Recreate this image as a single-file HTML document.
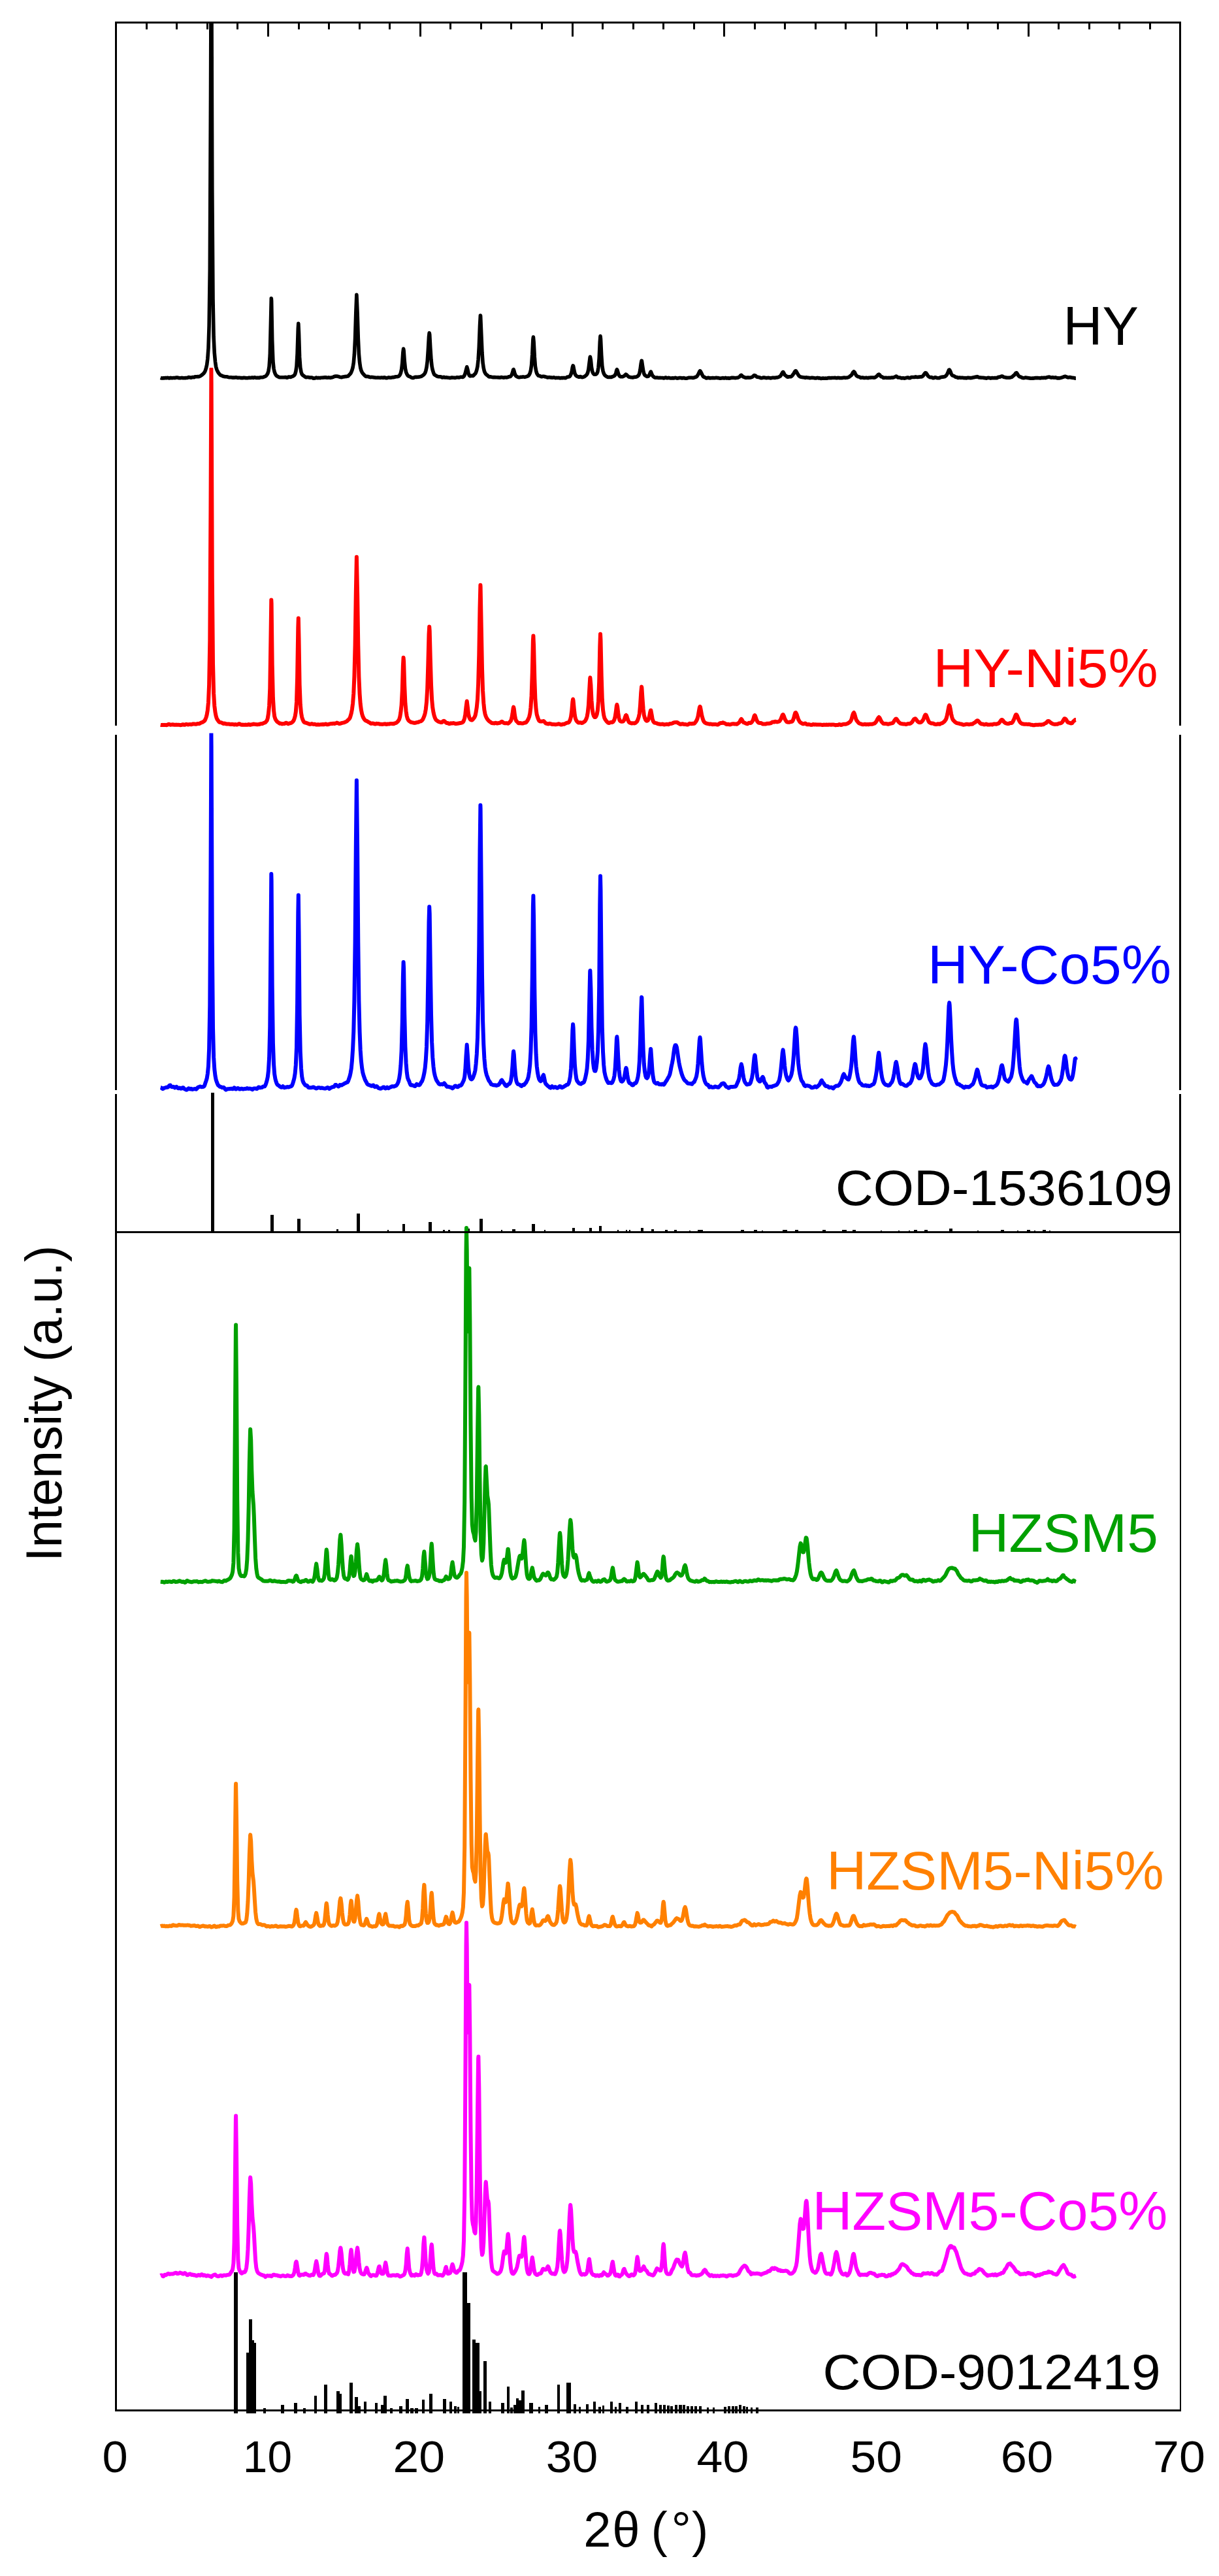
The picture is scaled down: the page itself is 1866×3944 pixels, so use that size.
<!DOCTYPE html>
<html lang="en">
<head>
<meta charset="utf-8">
<title>XRD patterns of HY and HZSM5 catalysts</title>
<style>
html,body{margin:0;padding:0;background:#fff}
body{width:1866px;height:3944px;overflow:hidden}
svg{display:block}
</style>
</head>
<body>
<svg width="1866" height="3944" viewBox="0 0 1866 3944">
<rect width="1866" height="3944" fill="#fff"/>
<defs>
<clipPath id="c_blue"><rect x="0" y="1122.5" width="1866" height="2821.5"/></clipPath>
<clipPath id="c_red"><rect x="0" y="563.0" width="1866" height="3381.0"/></clipPath>
<clipPath id="c_black"><rect x="0" y="33.5" width="1866" height="3910.5"/></clipPath>
<clipPath id="c_magenta"><rect x="0" y="2939.0" width="1866" height="1005.0"/></clipPath>
<clipPath id="c_orange"><rect x="0" y="2403.0" width="1866" height="1541.0"/></clipPath>
<clipPath id="c_green"><rect x="0" y="1875.0" width="1866" height="2069.0"/></clipPath>
</defs>
<g fill="#000" shape-rendering="crispEdges">
<rect x="322.7" y="1672.8" width="5.6" height="214.7"/>
<rect x="413.5" y="1860.2" width="5.0" height="27.3"/>
<rect x="454.5" y="1866.4" width="5.0" height="21.1"/>
<rect x="515.3" y="1882.0" width="2.5" height="5.5"/>
<rect x="546.2" y="1857.5" width="5.0" height="30.0"/>
<rect x="593.3" y="1883.0" width="2.0" height="4.5"/>
<rect x="615.8" y="1874.2" width="4.5" height="13.3"/>
<rect x="656.3" y="1871.2" width="4.5" height="16.3"/>
<rect x="678.3" y="1882.5" width="3.0" height="5.0"/>
<rect x="685.9" y="1882.5" width="3.0" height="5.0"/>
<rect x="714.5" y="1880.6" width="4.0" height="6.9"/>
<rect x="734.1" y="1865.8" width="4.5" height="21.7"/>
<rect x="767.2" y="1883.0" width="2.0" height="4.5"/>
<rect x="784.1" y="1882.0" width="5.0" height="5.5"/>
<rect x="814.1" y="1874.2" width="5.0" height="13.3"/>
<rect x="833.1" y="1883.0" width="2.0" height="4.5"/>
<rect x="876.3" y="1879.5" width="4.0" height="8.0"/>
<rect x="901.9" y="1879.5" width="4.0" height="8.0"/>
<rect x="916.8" y="1877.0" width="4.5" height="10.5"/>
<rect x="944.8" y="1883.0" width="2.0" height="4.5"/>
<rect x="957.8" y="1883.0" width="2.0" height="4.5"/>
<rect x="963.4" y="1883.0" width="2.0" height="4.5"/>
<rect x="981.0" y="1879.5" width="4.0" height="8.0"/>
<rect x="997.3" y="1882.0" width="4.0" height="5.5"/>
<rect x="1018.3" y="1882.5" width="4.0" height="5.0"/>
<rect x="1032.3" y="1882.5" width="4.0" height="5.0"/>
<rect x="1054.9" y="1883.6" width="2.0" height="3.9"/>
<rect x="1068.0" y="1882.5" width="8.0" height="5.0"/>
<rect x="1134.2" y="1882.8" width="5.0" height="4.7"/>
<rect x="1154.2" y="1882.8" width="5.0" height="4.7"/>
<rect x="1165.9" y="1883.6" width="2.0" height="3.9"/>
<rect x="1197.9" y="1882.8" width="7.0" height="4.7"/>
<rect x="1217.0" y="1882.8" width="5.0" height="4.7"/>
<rect x="1258.9" y="1882.8" width="5.0" height="4.7"/>
<rect x="1288.9" y="1882.8" width="7.0" height="4.7"/>
<rect x="1304.8" y="1882.8" width="5.0" height="4.7"/>
<rect x="1347.5" y="1883.6" width="2.0" height="3.9"/>
<rect x="1374.7" y="1883.6" width="2.0" height="3.9"/>
<rect x="1391.0" y="1883.6" width="2.0" height="3.9"/>
<rect x="1399.3" y="1882.8" width="5.0" height="4.7"/>
<rect x="1415.3" y="1882.8" width="5.0" height="4.7"/>
<rect x="1453.1" y="1880.5" width="5.0" height="7.0"/>
<rect x="1496.4" y="1883.6" width="2.0" height="3.9"/>
<rect x="1532.2" y="1882.8" width="5.0" height="4.7"/>
<rect x="1557.0" y="1883.6" width="2.0" height="3.9"/>
<rect x="1571.8" y="1882.8" width="5.0" height="4.7"/>
<rect x="1582.6" y="1883.6" width="2.0" height="3.9"/>
<rect x="1596.2" y="1882.8" width="5.0" height="4.7"/>
<rect x="1605.8" y="1883.6" width="2.0" height="3.9"/>
<rect x="358.0" y="3478.5" width="5.7" height="216.0"/>
<rect x="377.3" y="3601.5" width="4.0" height="93.0"/>
<rect x="380.5" y="3551.0" width="5.0" height="143.5"/>
<rect x="384.5" y="3583.0" width="4.0" height="111.5"/>
<rect x="388.0" y="3587.0" width="4.0" height="107.5"/>
<rect x="402.6" y="3686.5" width="4.0" height="8.0"/>
<rect x="430.3" y="3681.5" width="4.5" height="13.0"/>
<rect x="450.1" y="3678.6" width="4.5" height="15.9"/>
<rect x="464.3" y="3686.5" width="4.0" height="8.0"/>
<rect x="480.6" y="3668.4" width="4.0" height="26.1"/>
<rect x="496.4" y="3650.7" width="5.0" height="43.8"/>
<rect x="515.3" y="3661.0" width="4.5" height="33.5"/>
<rect x="519.7" y="3665.0" width="3.5" height="29.5"/>
<rect x="535.3" y="3647.9" width="5.0" height="46.6"/>
<rect x="543.0" y="3670.4" width="5.0" height="24.1"/>
<rect x="548.1" y="3684.0" width="4.0" height="10.5"/>
<rect x="557.4" y="3676.6" width="4.0" height="17.9"/>
<rect x="573.5" y="3678.6" width="4.5" height="15.9"/>
<rect x="583.0" y="3681.5" width="4.0" height="13.0"/>
<rect x="587.4" y="3668.4" width="4.5" height="26.1"/>
<rect x="597.0" y="3686.5" width="4.0" height="8.0"/>
<rect x="610.5" y="3684.0" width="5.0" height="10.5"/>
<rect x="621.2" y="3673.3" width="4.5" height="21.2"/>
<rect x="627.9" y="3686.5" width="5.0" height="8.0"/>
<rect x="634.9" y="3686.5" width="5.0" height="8.0"/>
<rect x="645.9" y="3674.0" width="4.0" height="20.5"/>
<rect x="657.3" y="3665.0" width="4.5" height="29.5"/>
<rect x="678.2" y="3673.3" width="4.5" height="21.2"/>
<rect x="687.8" y="3676.6" width="4.0" height="17.9"/>
<rect x="695.0" y="3683.5" width="3.5" height="11.0"/>
<rect x="699.7" y="3685.0" width="3.5" height="9.5"/>
<rect x="708.4" y="3479.3" width="6.5" height="215.2"/>
<rect x="713.8" y="3525.6" width="6.0" height="168.9"/>
<rect x="723.3" y="3582.2" width="5.0" height="112.3"/>
<rect x="728.2" y="3587.0" width="5.5" height="107.5"/>
<rect x="733.4" y="3661.0" width="3.5" height="33.5"/>
<rect x="739.6" y="3615.0" width="5.0" height="79.5"/>
<rect x="748.3" y="3676.6" width="4.0" height="17.9"/>
<rect x="767.1" y="3678.6" width="5.0" height="15.9"/>
<rect x="775.5" y="3653.6" width="4.5" height="40.9"/>
<rect x="780.9" y="3686.0" width="4.0" height="8.5"/>
<rect x="785.5" y="3682.0" width="4.0" height="12.5"/>
<rect x="789.5" y="3672.0" width="4.5" height="22.5"/>
<rect x="793.7" y="3675.0" width="4.0" height="19.5"/>
<rect x="798.1" y="3659.8" width="4.5" height="34.7"/>
<rect x="810.1" y="3679.0" width="6.0" height="15.5"/>
<rect x="824.4" y="3684.5" width="3.0" height="10.0"/>
<rect x="834.2" y="3682.0" width="4.5" height="12.5"/>
<rect x="852.8" y="3651.0" width="4.5" height="43.5"/>
<rect x="866.7" y="3648.2" width="7.0" height="46.3"/>
<rect x="877.7" y="3681.0" width="4.0" height="13.5"/>
<rect x="886.1" y="3685.0" width="3.0" height="9.5"/>
<rect x="897.3" y="3681.0" width="4.0" height="13.5"/>
<rect x="908.2" y="3677.0" width="3.5" height="17.5"/>
<rect x="915.9" y="3685.0" width="4.0" height="9.5"/>
<rect x="921.9" y="3683.0" width="3.5" height="11.5"/>
<rect x="934.0" y="3677.0" width="3.5" height="17.5"/>
<rect x="940.8" y="3685.0" width="3.0" height="9.5"/>
<rect x="947.3" y="3679.0" width="3.5" height="15.5"/>
<rect x="957.8" y="3685.0" width="4.0" height="9.5"/>
<rect x="971.5" y="3677.0" width="4.5" height="17.5"/>
<rect x="981.0" y="3682.0" width="4.0" height="12.5"/>
<rect x="990.4" y="3682.0" width="4.0" height="12.5"/>
<rect x="1002.2" y="3679.0" width="3.5" height="15.5"/>
<rect x="1008.7" y="3682.0" width="4.5" height="12.5"/>
<rect x="1014.5" y="3682.0" width="4.5" height="12.5"/>
<rect x="1020.6" y="3683.0" width="4.0" height="11.5"/>
<rect x="1026.4" y="3684.0" width="4.0" height="10.5"/>
<rect x="1033.4" y="3682.0" width="4.0" height="12.5"/>
<rect x="1039.0" y="3681.5" width="4.5" height="13.0"/>
<rect x="1045.1" y="3682.0" width="4.0" height="12.5"/>
<rect x="1050.9" y="3684.0" width="4.0" height="10.5"/>
<rect x="1056.7" y="3684.0" width="4.0" height="10.5"/>
<rect x="1062.5" y="3684.0" width="4.0" height="10.5"/>
<rect x="1069.5" y="3683.5" width="4.0" height="11.0"/>
<rect x="1081.6" y="3685.5" width="3.0" height="9.0"/>
<rect x="1090.9" y="3685.5" width="3.0" height="9.0"/>
<rect x="1107.9" y="3684.5" width="4.0" height="10.0"/>
<rect x="1113.7" y="3684.0" width="4.0" height="10.5"/>
<rect x="1119.5" y="3684.0" width="4.0" height="10.5"/>
<rect x="1125.4" y="3683.5" width="4.0" height="11.0"/>
<rect x="1131.2" y="3682.0" width="4.0" height="12.5"/>
<rect x="1137.0" y="3684.0" width="4.0" height="10.5"/>
<rect x="1142.2" y="3685.0" width="3.0" height="9.5"/>
<rect x="1149.1" y="3686.0" width="3.0" height="8.5"/>
<rect x="1157.0" y="3686.0" width="3.5" height="8.5"/>
</g>
<polyline clip-path="url(#c_blue)" fill="none" stroke="#0000ff" stroke-width="6" stroke-linejoin="round" stroke-linecap="butt" points="245.7,1665.0 246.8,1665.3 248.0,1666.4 249.2,1667.1 250.3,1666.5 251.5,1665.6 252.6,1665.4 253.8,1665.1 255.0,1664.7 256.1,1664.8 257.3,1664.4 258.5,1662.9 259.6,1661.7 260.8,1661.6 261.5,1662.5 262.0,1663.4 263.1,1664.1 264.3,1664.2 265.5,1663.8 266.6,1664.6 267.8,1665.4 268.9,1664.5 270.1,1663.8 271.3,1664.8 272.4,1666.2 273.6,1666.2 274.8,1665.6 275.9,1666.1 277.1,1666.7 278.3,1666.3 279.4,1665.2 280.6,1665.2 281.7,1666.8 282.9,1667.6 284.1,1668.1 285.2,1668.7 286.4,1668.3 287.6,1667.2 288.7,1666.3 289.9,1666.9 291.1,1667.5 292.2,1666.8 293.4,1667.2 294.5,1668.0 295.7,1667.6 296.9,1667.3 298.0,1667.1 299.2,1667.2 300.4,1667.7 301.5,1666.6 302.7,1665.0 303.9,1664.4 305.0,1664.0 306.2,1663.5 307.3,1663.8 308.5,1664.3 309.7,1664.1 310.8,1664.1 312.0,1663.6 313.2,1661.8 314.3,1658.3 315.5,1654.9 316.7,1651.0 317.8,1644.1 319.0,1632.1 320.1,1606.0 321.3,1539.3 322.5,1335.7 323.4,1121.9 323.6,1142.4 324.8,1444.0 326.0,1574.1 327.1,1618.4 328.3,1637.1 329.5,1647.1 330.6,1653.0 331.8,1656.6 333.0,1659.7 334.1,1661.7 335.3,1662.5 336.4,1663.7 337.6,1664.1 338.8,1664.3 339.9,1665.2 341.1,1665.1 342.3,1664.8 343.4,1665.7 344.6,1667.5 345.8,1668.6 346.9,1668.1 348.1,1667.3 349.2,1667.3 350.4,1667.3 351.6,1666.9 352.7,1667.0 353.9,1666.8 355.1,1666.7 356.2,1667.3 357.4,1666.7 358.6,1665.4 359.7,1666.1 360.9,1667.6 362.0,1667.3 363.2,1666.3 364.4,1666.0 365.5,1666.7 366.7,1667.6 367.9,1667.5 369.0,1666.8 370.2,1666.8 371.4,1667.4 372.5,1667.5 373.7,1667.2 374.8,1666.9 376.0,1667.1 377.2,1666.7 378.3,1666.1 379.5,1666.7 380.7,1666.9 381.8,1666.6 383.0,1666.8 384.2,1667.0 385.3,1667.7 386.5,1668.1 387.6,1667.0 388.8,1666.4 390.0,1666.4 391.1,1666.5 392.3,1666.9 393.5,1667.0 394.6,1665.8 395.8,1664.5 397.0,1664.7 398.1,1665.4 399.3,1665.1 400.5,1665.1 401.6,1664.5 402.8,1663.5 403.9,1663.6 405.1,1663.4 406.3,1661.5 407.4,1658.4 408.6,1654.4 409.8,1648.9 410.9,1639.6 412.1,1619.5 413.3,1571.6 414.4,1445.6 415.3,1338.1 415.6,1348.1 416.7,1510.0 417.9,1596.7 419.1,1630.1 420.2,1644.6 421.4,1651.7 422.6,1656.1 423.7,1659.2 424.9,1661.0 426.1,1661.7 427.2,1662.4 428.4,1663.6 429.5,1664.2 430.7,1664.8 431.9,1664.5 433.0,1663.3 434.2,1664.4 435.4,1665.3 436.5,1664.7 437.7,1664.8 438.9,1664.4 440.0,1663.9 441.2,1664.4 442.3,1664.4 443.5,1663.8 444.7,1663.4 445.8,1663.2 447.0,1661.9 448.2,1658.9 449.3,1655.2 450.5,1650.6 451.7,1643.2 452.8,1630.7 454.0,1603.6 455.1,1535.7 456.3,1398.2 456.8,1370.4 457.5,1425.6 458.6,1554.0 459.8,1610.8 461.0,1635.4 462.1,1647.7 463.3,1654.3 464.5,1657.4 465.6,1659.1 466.8,1660.9 468.0,1661.9 469.1,1661.7 470.3,1662.4 471.4,1664.1 472.6,1665.1 473.8,1665.3 474.9,1665.2 476.1,1665.3 477.3,1665.1 478.4,1664.7 479.6,1664.4 480.8,1664.8 481.9,1665.6 483.1,1666.0 484.2,1666.5 485.4,1666.1 486.6,1665.3 487.7,1665.3 488.9,1665.3 490.1,1665.8 491.2,1665.9 492.4,1665.5 493.6,1665.8 494.7,1666.1 495.9,1666.4 497.0,1666.6 498.2,1666.6 499.4,1666.1 500.5,1665.3 501.7,1665.0 502.9,1665.7 504.0,1667.0 505.2,1666.4 506.4,1665.3 507.5,1665.0 508.7,1664.3 509.8,1664.1 511.0,1664.1 512.2,1662.6 513.3,1660.9 514.5,1661.0 515.2,1661.9 515.7,1662.1 516.8,1662.7 518.0,1663.5 519.2,1662.7 520.3,1661.1 521.5,1661.2 522.7,1661.6 523.8,1660.9 525.0,1660.2 526.1,1659.7 527.3,1658.8 528.5,1658.4 529.6,1657.8 530.8,1657.1 532.0,1657.0 533.1,1654.8 534.3,1651.3 535.5,1647.8 536.6,1642.8 537.8,1635.7 538.9,1624.1 540.1,1606.1 541.3,1579.2 542.4,1531.7 543.6,1442.7 544.8,1297.2 545.9,1194.7 547.1,1296.7 548.3,1442.7 549.4,1532.4 550.6,1580.4 551.7,1607.9 552.9,1624.7 554.1,1635.0 555.2,1641.9 556.4,1646.3 557.6,1649.8 558.7,1653.0 559.9,1655.2 561.1,1657.4 562.2,1659.7 563.4,1660.6 564.5,1661.0 565.7,1661.5 566.9,1661.8 568.0,1662.5 569.2,1662.7 570.4,1661.7 571.5,1661.6 572.7,1663.3 573.9,1664.2 575.0,1663.8 576.2,1663.0 577.3,1663.5 578.5,1665.2 579.7,1666.1 580.8,1666.3 582.0,1666.7 583.2,1666.5 584.3,1665.9 585.5,1665.4 586.7,1664.4 587.8,1664.5 589.0,1666.0 590.2,1666.5 591.3,1665.5 592.5,1664.7 593.6,1665.7 594.8,1666.2 596.0,1665.3 597.1,1664.7 598.3,1664.3 599.5,1663.4 600.6,1663.2 601.8,1663.5 603.0,1663.6 604.1,1663.0 605.3,1662.7 606.4,1662.3 607.6,1660.7 608.8,1658.7 609.9,1656.0 611.1,1651.1 612.3,1643.2 613.4,1631.3 614.6,1609.3 615.8,1565.2 616.9,1495.0 617.6,1472.9 618.1,1482.4 619.2,1552.1 620.4,1602.8 621.6,1628.0 622.7,1641.5 623.9,1649.8 625.1,1653.3 626.2,1655.3 627.4,1658.7 628.6,1661.2 629.7,1661.5 630.9,1661.3 632.0,1661.7 633.2,1662.2 634.4,1662.8 635.5,1663.0 636.7,1661.4 637.9,1659.8 639.0,1660.4 640.2,1661.2 641.4,1661.4 642.5,1661.0 643.7,1659.0 644.8,1657.0 646.0,1655.4 647.2,1652.2 648.3,1648.0 649.5,1642.5 650.7,1634.7 651.8,1622.9 653.0,1602.7 654.2,1564.9 655.3,1497.9 656.5,1411.8 657.2,1388.3 657.7,1398.9 658.8,1480.4 660.0,1553.2 661.1,1595.2 662.3,1619.0 663.5,1633.1 664.6,1641.6 665.8,1647.0 667.0,1651.0 668.1,1653.8 669.3,1655.6 670.5,1657.5 671.6,1659.3 672.8,1660.1 673.9,1660.4 675.1,1660.1 676.3,1659.8 677.4,1660.4 678.6,1660.0 679.8,1658.6 680.0,1658.4 680.9,1659.5 682.1,1661.1 683.3,1662.8 684.4,1663.9 685.6,1663.7 686.7,1663.8 687.9,1664.4 689.1,1664.7 690.2,1664.6 691.4,1665.5 692.6,1666.4 693.7,1665.6 694.9,1664.2 696.1,1663.0 697.2,1662.4 698.4,1663.0 699.5,1664.0 700.7,1664.3 701.9,1663.5 703.0,1662.2 704.2,1661.8 705.4,1662.0 706.5,1660.9 707.7,1658.5 708.9,1656.1 710.0,1653.7 711.2,1648.8 712.3,1637.6 713.5,1616.7 714.7,1599.6 715.8,1614.4 717.0,1633.7 718.2,1644.1 719.3,1649.2 720.5,1651.9 721.7,1652.5 722.8,1651.9 724.0,1649.9 725.2,1646.7 726.3,1643.6 727.5,1638.6 728.6,1628.8 729.8,1613.7 731.0,1588.3 732.1,1540.3 733.3,1448.9 734.5,1303.5 735.4,1232.8 735.6,1237.8 736.8,1366.0 738.0,1493.3 739.1,1562.9 740.3,1599.4 741.4,1620.7 742.6,1634.1 743.8,1641.6 744.9,1645.8 746.1,1648.9 747.3,1652.1 748.4,1654.7 749.6,1656.0 750.8,1658.0 751.9,1660.1 753.1,1660.5 754.2,1660.9 755.4,1661.3 756.6,1661.4 757.7,1661.3 758.9,1661.8 760.1,1662.0 761.2,1661.4 762.4,1661.3 763.6,1660.6 764.7,1658.9 765.9,1657.2 767.0,1654.9 768.2,1653.6 769.4,1655.5 770.5,1657.4 771.7,1658.7 772.9,1660.8 774.0,1662.2 775.2,1662.8 776.4,1662.1 777.5,1660.4 778.7,1659.9 779.9,1659.5 781.0,1657.6 782.2,1653.8 783.3,1646.3 784.5,1631.7 785.7,1613.0 786.1,1609.5 786.8,1614.5 788.0,1633.6 789.2,1647.5 790.3,1654.8 791.5,1658.3 792.7,1659.9 793.8,1660.3 795.0,1660.5 796.1,1661.2 797.3,1662.5 798.5,1662.9 799.6,1661.2 800.8,1660.7 802.0,1661.3 803.1,1660.0 804.3,1658.4 805.5,1657.1 806.6,1654.6 807.8,1652.4 808.9,1648.4 810.1,1640.6 811.3,1629.6 812.4,1610.3 813.6,1572.1 814.8,1495.5 815.9,1387.8 816.4,1371.5 817.1,1406.3 818.3,1514.4 819.4,1581.1 820.6,1614.5 821.7,1632.3 822.9,1642.0 824.1,1648.2 825.2,1652.2 826.4,1654.3 827.6,1655.4 828.7,1654.3 829.9,1651.2 831.1,1647.2 832.0,1645.7 832.2,1646.4 833.4,1652.0 834.5,1657.4 835.7,1659.8 836.9,1660.8 838.0,1662.2 839.2,1663.1 840.4,1663.7 841.5,1665.1 842.7,1665.6 843.9,1664.1 845.0,1663.1 846.2,1664.2 847.4,1665.3 848.5,1664.8 849.7,1664.1 850.8,1664.4 852.0,1665.4 853.2,1665.8 854.3,1665.2 855.5,1664.2 856.7,1663.1 857.8,1663.3 859.0,1664.7 860.2,1665.2 861.3,1664.7 862.5,1664.1 863.6,1663.4 864.8,1662.7 866.0,1661.9 867.1,1661.0 868.3,1660.8 869.5,1660.4 870.6,1658.4 871.8,1654.3 873.0,1647.8 874.1,1635.4 875.3,1611.1 876.4,1577.3 877.1,1568.2 877.6,1573.5 878.8,1606.0 879.9,1630.4 881.1,1643.3 882.3,1651.5 883.4,1655.0 884.6,1656.4 885.8,1658.1 886.9,1659.0 888.1,1659.4 889.2,1659.7 890.4,1658.6 891.6,1657.7 892.7,1657.9 893.9,1656.8 895.1,1653.5 896.2,1649.2 897.4,1643.6 898.6,1635.7 899.7,1621.6 900.9,1593.2 902.0,1540.4 903.2,1487.6 903.4,1485.9 904.4,1514.2 905.5,1572.0 906.7,1607.9 907.9,1626.5 909.0,1635.5 910.2,1639.6 911.4,1639.8 912.5,1635.7 913.7,1626.4 914.9,1610.3 916.0,1579.8 917.2,1510.9 918.3,1384.7 919.0,1341.2 919.5,1362.8 920.7,1491.5 921.8,1572.3 923.0,1610.0 924.2,1630.2 925.3,1641.1 926.5,1646.7 927.7,1650.9 928.8,1653.9 930.0,1656.2 931.1,1658.1 932.3,1658.0 933.5,1657.6 934.6,1657.9 935.8,1658.3 937.0,1657.6 938.1,1655.4 939.3,1652.2 940.5,1647.1 941.6,1636.6 942.8,1615.9 943.9,1590.5 944.4,1587.3 945.1,1594.6 946.3,1619.8 947.4,1637.5 948.6,1647.6 949.8,1653.0 950.9,1655.5 952.1,1655.9 953.3,1654.9 954.4,1653.1 955.6,1649.7 956.7,1643.5 957.9,1636.4 958.4,1635.0 959.1,1637.2 960.2,1645.4 961.4,1652.4 962.6,1656.6 963.7,1658.3 964.9,1658.6 966.1,1659.6 967.2,1661.0 968.4,1661.6 969.5,1661.0 970.7,1659.2 971.9,1658.3 973.0,1658.5 974.2,1656.9 975.4,1653.4 976.5,1648.9 977.7,1640.9 978.9,1624.8 980.0,1595.9 981.2,1550.3 982.1,1526.8 982.4,1527.3 983.5,1568.0 984.7,1607.9 985.8,1628.8 987.0,1640.7 988.2,1647.3 989.3,1650.0 990.5,1650.8 991.7,1649.2 992.8,1644.4 994.0,1633.6 995.2,1615.2 996.1,1605.9 996.3,1606.5 997.5,1623.6 998.6,1640.1 999.8,1649.5 1001.0,1655.1 1002.1,1657.3 1003.3,1658.2 1004.5,1659.0 1005.6,1658.4 1006.8,1658.0 1008.0,1659.3 1009.1,1660.3 1010.3,1659.9 1011.4,1660.2 1012.6,1660.5 1013.8,1659.6 1014.9,1660.0 1016.1,1660.7 1017.3,1659.3 1018.4,1657.2 1019.6,1655.5 1020.8,1653.8 1021.9,1651.7 1023.1,1649.6 1024.2,1647.7 1025.4,1644.7 1026.6,1639.0 1027.7,1632.9 1028.9,1627.6 1030.1,1621.3 1031.2,1612.5 1032.4,1604.1 1033.6,1600.2 1034.3,1600.2 1034.7,1600.2 1035.9,1603.4 1037.0,1610.5 1038.2,1619.1 1039.4,1626.8 1040.5,1632.5 1041.7,1637.3 1042.9,1642.0 1044.0,1645.6 1045.2,1648.7 1046.4,1651.3 1047.5,1653.3 1048.7,1654.6 1049.9,1655.4 1051.0,1656.7 1052.2,1658.2 1053.3,1658.7 1054.5,1658.9 1055.7,1658.9 1056.8,1659.0 1058.0,1659.5 1059.2,1659.8 1060.3,1658.4 1061.5,1657.3 1062.7,1656.5 1063.8,1653.9 1065.0,1651.1 1066.1,1647.8 1067.3,1640.7 1068.5,1628.2 1069.6,1610.9 1070.8,1592.8 1071.5,1588.3 1072.0,1591.0 1073.1,1608.1 1074.3,1626.6 1075.5,1638.9 1076.6,1646.5 1077.8,1651.6 1078.9,1655.4 1080.1,1658.1 1081.3,1659.9 1082.4,1660.7 1083.6,1660.7 1084.8,1662.4 1085.9,1664.6 1087.1,1664.3 1088.3,1663.6 1089.4,1664.6 1090.6,1664.9 1091.7,1664.7 1092.9,1664.8 1094.1,1663.7 1095.2,1663.5 1096.4,1664.2 1097.6,1664.3 1098.7,1664.8 1099.9,1664.7 1101.1,1663.4 1102.2,1662.4 1103.4,1661.2 1104.6,1659.5 1105.7,1658.9 1106.4,1659.0 1106.9,1658.5 1108.0,1658.7 1109.2,1659.9 1110.4,1662.0 1111.5,1663.8 1112.7,1664.1 1113.9,1664.5 1115.0,1665.7 1116.2,1665.5 1117.4,1664.4 1118.5,1664.0 1119.7,1664.1 1120.8,1664.0 1122.0,1663.9 1123.2,1663.8 1124.3,1663.8 1125.5,1663.6 1126.7,1662.6 1127.8,1660.3 1129.0,1657.4 1130.2,1654.9 1131.3,1651.1 1132.5,1643.9 1133.6,1634.7 1134.8,1629.3 1136.0,1634.0 1137.1,1642.9 1138.3,1650.1 1139.5,1655.0 1140.6,1657.3 1141.8,1658.8 1143.0,1660.4 1144.1,1660.5 1145.3,1660.1 1146.4,1660.0 1147.6,1659.6 1148.8,1657.8 1149.9,1654.1 1151.1,1649.8 1152.3,1642.4 1153.4,1630.8 1154.6,1619.1 1155.3,1615.5 1155.8,1616.1 1156.9,1626.9 1158.1,1639.4 1159.2,1648.7 1160.4,1653.2 1161.6,1654.5 1162.7,1655.8 1163.9,1655.5 1165.1,1653.1 1166.2,1650.7 1167.4,1648.9 1167.6,1648.8 1168.6,1650.7 1169.7,1655.2 1170.9,1658.0 1172.1,1659.1 1173.2,1661.5 1174.4,1664.7 1175.5,1665.1 1176.7,1663.8 1177.9,1663.7 1179.0,1663.7 1180.2,1663.8 1181.4,1664.1 1182.5,1663.3 1183.7,1662.7 1184.9,1662.6 1186.0,1662.0 1187.2,1661.5 1188.3,1661.3 1189.5,1660.3 1190.7,1658.2 1191.8,1656.4 1193.0,1653.4 1194.2,1647.1 1195.3,1638.0 1196.5,1626.0 1197.7,1612.4 1198.6,1607.4 1198.8,1608.2 1200.0,1618.4 1201.1,1631.6 1202.3,1641.4 1203.5,1647.1 1204.6,1650.3 1205.8,1653.1 1207.0,1654.2 1208.1,1652.7 1209.3,1650.3 1210.5,1648.1 1211.6,1644.6 1212.8,1638.4 1213.9,1628.7 1215.1,1613.7 1216.3,1593.6 1217.4,1576.3 1218.1,1573.3 1218.6,1574.9 1219.8,1589.4 1220.9,1610.6 1222.1,1627.8 1223.3,1638.0 1224.4,1644.5 1225.6,1649.7 1226.7,1653.8 1227.9,1655.6 1229.1,1657.1 1230.2,1659.8 1231.4,1662.0 1232.6,1662.9 1233.7,1662.4 1234.9,1662.0 1236.1,1662.3 1237.2,1662.4 1238.4,1662.7 1239.6,1663.3 1240.7,1664.0 1241.9,1665.1 1243.0,1665.4 1244.2,1665.0 1245.4,1665.0 1246.5,1664.1 1247.7,1663.3 1248.9,1663.9 1250.0,1664.6 1251.2,1663.8 1252.4,1662.4 1253.5,1661.7 1254.7,1660.2 1255.8,1657.8 1257.0,1655.1 1257.9,1654.1 1258.2,1655.2 1259.3,1656.9 1260.5,1658.2 1261.7,1660.0 1262.8,1661.7 1264.0,1662.8 1265.2,1663.0 1266.3,1662.9 1267.5,1663.5 1268.6,1664.7 1269.8,1665.2 1271.0,1664.9 1272.1,1664.6 1273.3,1664.9 1274.5,1666.0 1275.6,1666.5 1276.8,1665.0 1278.0,1663.7 1279.1,1663.1 1280.3,1662.4 1281.4,1662.6 1282.6,1662.6 1283.8,1661.7 1284.9,1660.4 1286.1,1658.6 1287.3,1656.5 1288.4,1653.5 1289.6,1649.3 1290.8,1645.7 1291.7,1644.5 1291.9,1644.8 1293.1,1647.0 1294.2,1649.2 1295.4,1650.3 1296.6,1651.3 1297.7,1652.4 1298.9,1652.8 1300.1,1649.9 1301.2,1644.5 1302.4,1637.6 1303.6,1626.9 1304.7,1611.6 1305.9,1594.1 1306.8,1587.3 1307.1,1587.8 1308.2,1600.2 1309.4,1618.7 1310.5,1632.8 1311.7,1641.7 1312.9,1648.1 1314.0,1652.9 1315.2,1656.2 1316.4,1658.2 1317.5,1658.8 1318.7,1659.8 1319.9,1661.5 1321.0,1661.9 1322.2,1662.1 1323.3,1662.3 1324.5,1661.5 1325.7,1661.7 1326.8,1662.7 1328.0,1662.2 1329.2,1662.2 1330.3,1663.1 1331.5,1662.8 1332.7,1662.3 1333.8,1661.7 1335.0,1660.7 1336.1,1660.4 1337.3,1659.8 1338.5,1657.3 1339.6,1652.8 1340.8,1646.9 1342.0,1639.3 1343.1,1628.5 1344.3,1616.5 1345.2,1611.8 1345.5,1612.5 1346.6,1621.4 1347.8,1633.1 1348.9,1642.3 1350.1,1649.5 1351.3,1654.2 1352.4,1657.0 1353.6,1658.8 1354.8,1660.1 1355.9,1661.1 1357.1,1660.9 1358.3,1661.4 1359.4,1662.1 1360.6,1661.8 1361.8,1661.4 1362.9,1659.7 1364.1,1658.0 1365.2,1656.9 1366.4,1653.9 1367.6,1649.3 1368.7,1643.5 1369.9,1635.5 1371.1,1627.5 1371.8,1625.8 1372.2,1627.3 1373.4,1633.5 1374.6,1642.0 1375.7,1650.0 1376.9,1654.9 1378.0,1658.3 1379.2,1659.6 1380.4,1659.1 1381.5,1659.5 1382.7,1660.5 1383.9,1661.3 1385.0,1661.9 1386.2,1662.4 1387.4,1662.6 1388.5,1662.0 1389.7,1660.8 1390.8,1659.8 1392.0,1659.3 1393.2,1658.4 1394.3,1656.5 1395.5,1654.1 1396.7,1649.9 1397.8,1643.2 1399.0,1635.8 1400.2,1630.2 1400.6,1629.1 1401.3,1629.7 1402.5,1635.6 1403.6,1642.6 1404.8,1647.4 1406.0,1650.0 1407.1,1651.1 1408.3,1650.8 1409.5,1649.0 1410.6,1646.1 1411.8,1642.5 1413.0,1635.2 1414.1,1621.8 1415.3,1606.7 1416.4,1598.5 1416.7,1599.6 1417.6,1604.8 1418.8,1618.6 1419.9,1631.7 1421.1,1641.6 1422.3,1649.2 1423.4,1653.0 1424.6,1655.0 1425.8,1657.6 1426.9,1659.2 1428.1,1659.9 1429.3,1660.7 1430.4,1661.1 1431.6,1661.3 1432.7,1661.5 1433.9,1661.1 1435.1,1660.6 1436.2,1660.5 1437.4,1660.4 1438.6,1659.6 1439.7,1658.6 1440.9,1657.6 1442.1,1656.5 1443.2,1655.5 1444.4,1652.6 1445.5,1647.2 1446.7,1639.8 1447.9,1630.7 1449.0,1617.8 1450.2,1596.2 1451.4,1566.6 1452.5,1540.1 1453.2,1535.1 1453.7,1538.8 1454.9,1562.6 1456.0,1590.1 1457.2,1612.0 1458.3,1628.2 1459.5,1638.9 1460.7,1645.6 1461.8,1649.9 1463.0,1653.6 1464.2,1657.0 1465.3,1659.3 1466.5,1660.0 1467.7,1659.9 1468.8,1660.6 1470.0,1661.8 1471.1,1662.2 1472.3,1662.8 1473.5,1663.7 1474.6,1664.7 1475.8,1665.4 1477.0,1664.6 1478.1,1663.6 1479.3,1664.3 1480.5,1664.2 1481.6,1663.9 1482.8,1664.5 1483.9,1664.0 1485.1,1663.1 1486.3,1662.2 1487.4,1661.1 1488.6,1660.4 1489.8,1658.8 1490.9,1655.8 1492.1,1652.3 1493.3,1647.9 1494.4,1642.3 1495.6,1638.2 1495.8,1637.6 1496.8,1639.8 1497.9,1644.9 1499.1,1649.5 1500.2,1654.2 1501.4,1658.3 1502.6,1660.9 1503.7,1661.8 1504.9,1661.9 1506.1,1662.5 1507.2,1662.6 1508.4,1662.5 1509.6,1664.0 1510.7,1665.0 1511.9,1664.7 1513.0,1664.3 1514.2,1664.2 1515.4,1664.2 1516.5,1663.7 1517.7,1663.6 1518.9,1664.7 1520.0,1665.0 1521.2,1663.7 1522.4,1663.2 1523.5,1662.7 1524.7,1661.7 1525.8,1660.7 1527.0,1658.7 1528.2,1655.4 1529.3,1651.2 1530.5,1645.6 1531.7,1638.7 1532.8,1632.5 1533.5,1631.1 1534.0,1631.1 1535.2,1635.9 1536.3,1643.4 1537.5,1649.4 1538.6,1652.5 1539.8,1653.7 1541.0,1654.5 1542.1,1655.4 1543.3,1656.1 1544.5,1654.8 1545.6,1652.4 1546.8,1650.9 1548.0,1648.2 1549.1,1642.9 1550.3,1634.9 1551.4,1622.3 1552.6,1604.9 1553.8,1583.7 1554.9,1565.1 1555.6,1560.8 1556.1,1561.6 1557.3,1577.5 1558.4,1599.1 1559.6,1618.6 1560.8,1633.1 1561.9,1641.5 1563.1,1646.4 1564.3,1649.9 1565.4,1652.7 1566.6,1654.9 1567.7,1656.2 1568.9,1656.4 1570.1,1656.6 1571.2,1658.0 1572.4,1658.8 1573.6,1656.8 1574.7,1653.6 1575.9,1651.7 1577.1,1650.4 1578.2,1648.7 1578.9,1647.6 1579.4,1647.8 1580.5,1650.2 1581.7,1653.1 1582.9,1655.7 1584.0,1657.5 1585.2,1658.3 1586.4,1659.8 1587.5,1662.3 1588.7,1663.2 1589.9,1662.4 1591.0,1662.6 1592.2,1663.3 1593.3,1663.0 1594.5,1662.2 1595.7,1661.5 1596.8,1660.5 1598.0,1658.6 1599.2,1655.8 1600.3,1652.5 1601.5,1648.1 1602.7,1642.3 1603.8,1636.1 1605.0,1632.5 1606.1,1635.1 1607.3,1641.8 1608.5,1648.0 1609.6,1652.8 1610.8,1656.0 1612.0,1658.4 1613.1,1660.4 1614.3,1661.1 1615.5,1660.8 1616.6,1660.7 1617.8,1660.8 1618.9,1660.5 1620.1,1659.6 1621.3,1658.0 1622.4,1656.2 1623.6,1654.2 1624.8,1650.6 1625.9,1644.8 1627.1,1636.7 1628.3,1626.9 1629.4,1618.0 1630.1,1616.4 1630.6,1617.3 1631.8,1624.3 1632.9,1634.2 1634.1,1642.2 1635.2,1647.1 1636.4,1650.5 1637.6,1652.1 1638.7,1652.8 1639.9,1652.9 1641.1,1650.7 1642.2,1646.5 1643.4,1639.3 1644.6,1629.3 1645.7,1620.9 1646.4,1620.5 1646.9,1622.7"/>
<polyline clip-path="url(#c_red)" fill="none" stroke="#ff0000" stroke-width="6" stroke-linejoin="round" stroke-linecap="butt" points="245.7,1109.9 246.8,1110.1 248.0,1110.1 249.2,1109.8 250.3,1110.1 251.5,1110.1 252.6,1109.8 253.8,1110.1 255.0,1110.2 256.1,1109.9 257.3,1109.2 258.5,1108.8 259.6,1109.3 260.8,1109.8 261.5,1109.6 262.0,1109.6 263.1,1109.4 264.3,1109.3 265.5,1109.5 266.6,1109.7 267.8,1109.8 268.9,1109.7 270.1,1109.6 271.3,1109.8 272.4,1109.8 273.6,1109.7 274.8,1109.9 275.9,1110.2 277.1,1110.1 278.3,1109.8 279.4,1109.3 280.6,1109.2 281.7,1109.8 282.9,1109.7 284.1,1109.1 285.2,1108.8 286.4,1109.1 287.6,1109.5 288.7,1109.3 289.9,1109.1 291.1,1109.1 292.2,1109.2 293.4,1109.3 294.5,1108.6 295.7,1108.3 296.9,1108.6 298.0,1108.6 299.2,1108.7 300.4,1108.7 301.5,1108.3 302.7,1107.9 303.9,1108.0 305.0,1107.9 306.2,1107.4 307.3,1106.7 308.5,1106.2 309.7,1105.9 310.8,1105.2 312.0,1104.4 313.2,1103.5 314.3,1101.5 315.5,1098.5 316.7,1094.1 317.8,1087.4 319.0,1075.2 320.1,1048.6 321.3,981.8 322.5,778.1 323.4,564.9 323.6,585.8 324.8,886.5 326.0,1016.5 327.1,1061.4 328.3,1080.8 329.5,1090.5 330.6,1096.1 331.8,1100.1 333.0,1102.2 334.1,1103.6 335.3,1105.2 336.4,1105.9 337.6,1106.1 338.8,1106.3 339.9,1106.7 341.1,1107.6 342.3,1108.0 343.4,1107.6 344.6,1107.7 345.8,1108.3 346.9,1108.4 348.1,1108.4 349.2,1108.5 350.4,1108.5 351.6,1108.7 352.7,1109.1 353.9,1108.9 355.1,1108.8 356.2,1108.9 357.4,1109.2 358.6,1109.5 359.7,1109.2 360.9,1109.1 362.0,1109.5 363.2,1109.4 364.4,1109.0 365.5,1108.3 366.7,1108.3 367.9,1109.1 369.0,1109.6 370.2,1109.7 371.4,1109.6 372.5,1109.7 373.7,1109.8 374.8,1109.7 376.0,1109.6 377.2,1109.7 378.3,1109.8 379.5,1109.4 380.7,1108.9 381.8,1109.5 383.0,1109.8 384.2,1109.4 385.3,1109.2 386.5,1109.0 387.6,1108.7 388.8,1108.6 390.0,1108.9 391.1,1109.1 392.3,1109.1 393.5,1109.3 394.6,1109.2 395.8,1109.1 397.0,1109.0 398.1,1108.5 399.3,1108.2 400.5,1108.1 401.6,1108.0 402.8,1107.4 403.9,1106.8 405.1,1106.5 406.3,1106.0 407.4,1104.8 408.6,1103.2 409.8,1099.6 410.9,1092.8 412.1,1081.0 413.3,1053.6 414.4,980.6 415.3,918.4 415.6,923.8 416.7,1017.9 417.9,1068.5 419.1,1088.1 420.2,1096.8 421.4,1100.7 422.6,1102.8 423.7,1104.4 424.9,1105.4 426.1,1106.1 427.2,1107.1 428.4,1107.7 429.5,1107.6 430.7,1108.0 431.9,1108.4 433.0,1108.1 434.2,1107.9 435.4,1107.9 436.5,1107.4 437.7,1106.7 438.9,1107.0 440.0,1107.7 441.2,1108.2 442.3,1107.7 443.5,1107.2 444.7,1107.2 445.8,1106.8 447.0,1105.9 448.2,1105.0 449.3,1103.5 450.5,1100.7 451.7,1096.7 452.8,1089.9 454.0,1074.7 455.1,1037.0 456.3,961.2 456.8,946.4 457.5,977.4 458.6,1048.0 459.8,1078.8 461.0,1091.6 462.1,1097.8 463.3,1101.6 464.5,1104.2 465.6,1105.8 466.8,1106.4 468.0,1106.4 469.1,1106.9 470.3,1107.3 471.4,1107.6 472.6,1108.3 473.8,1108.8 474.9,1108.8 476.1,1108.5 477.3,1108.1 478.4,1108.5 479.6,1108.9 480.8,1108.7 481.9,1108.8 483.1,1109.2 484.2,1109.5 485.4,1109.5 486.6,1109.3 487.7,1109.3 488.9,1109.6 490.1,1109.4 491.2,1109.2 492.4,1109.2 493.6,1109.0 494.7,1109.0 495.9,1109.3 497.0,1108.9 498.2,1108.4 499.4,1108.7 500.5,1109.2 501.7,1109.2 502.9,1109.1 504.0,1108.6 505.2,1108.3 506.4,1108.1 507.5,1108.0 508.7,1108.0 509.8,1107.8 511.0,1107.8 512.2,1107.9 513.3,1107.5 514.5,1107.3 515.2,1107.0 515.7,1106.6 516.8,1106.9 518.0,1107.4 519.2,1107.9 520.3,1108.0 521.5,1107.6 522.7,1107.2 523.8,1106.9 525.0,1106.6 526.1,1106.4 527.3,1105.9 528.5,1105.4 529.6,1105.0 530.8,1104.3 532.0,1103.2 533.1,1102.1 534.3,1101.0 535.5,1099.4 536.6,1096.2 537.8,1091.9 538.9,1086.2 540.1,1076.8 541.3,1061.7 542.4,1035.6 543.6,987.5 544.8,908.3 545.9,852.7 547.1,908.5 548.3,987.9 549.4,1036.3 550.6,1062.6 551.7,1077.6 552.9,1086.9 554.1,1092.8 555.2,1096.5 556.4,1099.2 557.6,1101.1 558.7,1102.5 559.9,1103.4 561.1,1103.8 562.2,1104.3 563.4,1105.2 564.5,1105.8 565.7,1106.3 566.9,1107.3 568.0,1107.9 569.2,1107.5 570.4,1107.5 571.5,1107.7 572.7,1108.1 573.9,1108.6 575.0,1108.5 576.2,1107.8 577.3,1107.9 578.5,1108.1 579.7,1108.1 580.8,1108.5 582.0,1108.8 583.2,1108.7 584.3,1108.9 585.5,1108.9 586.7,1108.7 587.8,1108.6 589.0,1108.3 590.2,1108.4 591.3,1108.9 592.5,1108.8 593.6,1108.5 594.8,1108.5 596.0,1108.5 597.1,1108.1 598.3,1108.0 599.5,1108.0 600.6,1108.0 601.8,1108.3 603.0,1108.1 604.1,1107.4 605.3,1107.1 606.4,1106.7 607.6,1105.9 608.8,1104.8 609.9,1103.4 611.1,1101.5 612.3,1097.4 613.4,1090.6 614.6,1079.7 615.8,1057.1 616.9,1019.1 617.6,1006.7 618.1,1012.3 619.2,1049.7 620.4,1076.3 621.6,1089.1 622.7,1096.2 623.9,1100.5 625.1,1102.6 626.2,1103.8 627.4,1104.7 628.6,1105.4 629.7,1105.9 630.9,1106.1 632.0,1106.4 633.2,1106.7 634.4,1106.9 635.5,1106.7 636.7,1106.5 637.9,1106.1 639.0,1105.8 640.2,1105.7 641.4,1105.2 642.5,1104.6 643.7,1104.4 644.8,1103.9 646.0,1103.0 647.2,1101.4 648.3,1099.0 649.5,1096.1 650.7,1092.1 651.8,1085.9 653.0,1074.6 654.2,1054.1 655.3,1018.2 656.5,971.5 657.2,959.4 657.7,966.0 658.8,1009.4 660.0,1048.3 661.1,1070.9 662.3,1083.6 663.5,1090.8 664.6,1095.5 665.8,1099.1 667.0,1101.5 668.1,1102.8 669.3,1103.6 670.5,1104.4 671.6,1105.0 672.8,1105.4 673.9,1105.7 675.1,1106.1 676.3,1106.0 677.4,1105.0 678.6,1103.9 679.8,1103.8 680.0,1104.2 680.9,1104.6 682.1,1105.8 683.3,1106.9 684.4,1107.0 685.6,1107.0 686.7,1107.8 687.9,1108.2 689.1,1107.8 690.2,1107.3 691.4,1107.4 692.6,1107.4 693.7,1107.1 694.9,1107.2 696.1,1107.7 697.2,1108.0 698.4,1108.1 699.5,1107.8 700.7,1107.7 701.9,1107.6 703.0,1107.2 704.2,1107.0 705.4,1106.9 706.5,1106.5 707.7,1106.3 708.9,1105.3 710.0,1103.1 711.2,1099.6 712.3,1093.4 713.5,1082.3 714.7,1073.5 715.8,1082.1 717.0,1092.6 718.2,1098.0 719.3,1100.6 720.5,1101.9 721.7,1102.4 722.8,1102.4 724.0,1101.2 725.2,1099.7 726.3,1098.2 727.5,1095.5 728.6,1090.4 729.8,1082.7 731.0,1070.3 732.1,1047.1 733.3,1002.6 734.5,931.2 735.4,895.8 735.6,898.2 736.8,961.5 738.0,1023.7 739.1,1057.9 740.3,1076.3 741.4,1087.0 742.6,1093.4 743.8,1097.0 744.9,1099.2 746.1,1101.2 747.3,1102.7 748.4,1103.8 749.6,1104.9 750.8,1105.5 751.9,1106.4 753.1,1107.1 754.2,1107.2 755.4,1107.3 756.6,1107.4 757.7,1106.9 758.9,1106.7 760.1,1107.3 761.2,1107.5 762.4,1107.2 763.6,1107.0 764.7,1106.8 765.9,1106.4 767.0,1105.4 768.2,1104.8 769.4,1105.4 770.5,1106.5 771.7,1107.0 772.9,1107.2 774.0,1107.3 775.2,1107.1 776.4,1107.4 777.5,1107.7 778.7,1107.1 779.9,1105.9 781.0,1104.7 782.2,1103.1 783.3,1099.4 784.5,1092.6 785.7,1084.0 786.1,1082.6 786.8,1085.3 788.0,1095.0 789.2,1101.2 790.3,1103.7 791.5,1105.0 792.7,1106.2 793.8,1107.2 795.0,1107.3 796.1,1107.0 797.3,1107.3 798.5,1107.4 799.6,1107.4 800.8,1107.4 802.0,1107.0 803.1,1106.5 804.3,1106.4 805.5,1105.9 806.6,1104.5 807.8,1102.6 808.9,1100.5 810.1,1097.5 811.3,1092.4 812.4,1083.3 813.6,1065.2 814.8,1029.6 815.9,980.7 816.4,973.4 817.1,989.0 818.3,1039.1 819.4,1070.6 820.6,1086.0 821.7,1093.8 822.9,1097.9 824.1,1101.2 825.2,1103.5 826.4,1104.3 827.6,1104.6 828.7,1104.5 829.9,1104.4 831.1,1104.2 832.0,1104.0 832.2,1104.0 833.4,1105.1 834.5,1106.6 835.7,1107.5 836.9,1107.8 838.0,1108.2 839.2,1108.4 840.4,1107.9 841.5,1107.8 842.7,1108.2 843.9,1108.5 845.0,1108.9 846.2,1109.0 847.4,1108.9 848.5,1109.1 849.7,1109.2 850.8,1109.2 852.0,1109.1 853.2,1108.9 854.3,1108.4 855.5,1108.2 856.7,1108.7 857.8,1109.2 859.0,1109.6 860.2,1109.4 861.3,1108.7 862.5,1108.8 863.6,1108.7 864.8,1108.1 866.0,1107.6 867.1,1107.1 868.3,1106.6 869.5,1106.6 870.6,1106.1 871.8,1104.3 873.0,1101.5 874.1,1097.0 875.3,1088.0 876.4,1074.6 877.1,1070.5 877.6,1072.7 878.8,1085.6 879.9,1095.5 881.1,1100.8 882.3,1103.3 883.4,1104.7 884.6,1105.9 885.8,1106.6 886.9,1106.5 888.1,1106.2 889.2,1106.4 890.4,1107.0 891.6,1106.8 892.7,1106.0 893.9,1105.3 895.1,1104.5 896.2,1103.0 897.4,1100.7 898.6,1097.1 899.7,1091.1 900.9,1079.9 902.0,1059.5 903.2,1038.6 903.4,1037.4 904.4,1048.8 905.5,1072.2 906.7,1086.4 907.9,1093.1 909.0,1096.2 910.2,1097.9 911.4,1098.0 912.5,1096.7 913.7,1093.7 914.9,1087.1 916.0,1073.4 917.2,1043.7 918.3,989.7 919.0,970.7 919.5,980.0 920.7,1035.2 921.8,1070.3 923.0,1086.6 924.2,1094.9 925.3,1099.4 926.5,1101.6 927.7,1103.2 928.8,1104.7 930.0,1105.9 931.1,1106.7 932.3,1107.0 933.5,1106.5 934.6,1105.9 935.8,1105.8 937.0,1105.9 938.1,1105.5 939.3,1104.1 940.5,1101.7 941.6,1097.4 942.8,1089.8 943.9,1080.4 944.4,1078.9 945.1,1081.7 946.3,1091.7 947.4,1099.0 948.6,1103.0 949.8,1104.4 950.9,1104.7 952.1,1104.8 953.3,1104.6 954.4,1103.9 955.6,1102.0 956.7,1098.6 957.9,1095.4 958.4,1095.0 959.1,1095.7 960.2,1099.2 961.4,1102.7 962.6,1105.3 963.7,1106.4 964.9,1106.8 966.1,1107.3 967.2,1107.5 968.4,1107.2 969.5,1107.2 970.7,1107.4 971.9,1107.3 973.0,1106.6 974.2,1105.5 975.4,1104.2 976.5,1101.5 977.7,1097.9 978.9,1092.4 980.0,1080.6 981.2,1060.9 982.1,1051.5 982.4,1052.8 983.5,1069.7 984.7,1085.8 985.8,1094.5 987.0,1099.2 988.2,1102.1 989.3,1103.5 990.5,1103.7 991.7,1103.0 992.8,1100.9 994.0,1097.0 995.2,1090.6 996.1,1087.4 996.3,1087.4 997.5,1093.7 998.6,1100.3 999.8,1104.1 1001.0,1105.9 1002.1,1106.6 1003.3,1106.9 1004.5,1107.1 1005.6,1107.5 1006.8,1108.1 1008.0,1108.5 1009.1,1108.5 1010.3,1108.8 1011.4,1108.9 1012.6,1108.8 1013.8,1108.6 1014.9,1108.7 1016.1,1109.3 1017.3,1109.4 1018.4,1109.1 1019.6,1108.9 1020.8,1108.8 1021.9,1108.9 1023.1,1109.2 1024.2,1108.8 1025.4,1108.0 1026.6,1107.9 1027.7,1107.9 1028.9,1107.6 1030.1,1107.1 1031.2,1106.4 1032.4,1106.1 1033.6,1105.9 1034.3,1105.9 1034.7,1106.1 1035.9,1105.8 1037.0,1106.1 1038.2,1107.1 1039.4,1107.7 1040.5,1108.4 1041.7,1108.9 1042.9,1108.7 1044.0,1108.2 1045.2,1108.3 1046.4,1108.7 1047.5,1109.1 1048.7,1109.1 1049.9,1109.1 1051.0,1109.4 1052.2,1109.6 1053.3,1109.2 1054.5,1108.4 1055.7,1107.8 1056.8,1107.9 1058.0,1108.2 1059.2,1108.0 1060.3,1107.8 1061.5,1107.9 1062.7,1107.7 1063.8,1106.7 1065.0,1105.2 1066.1,1103.4 1067.3,1100.9 1068.5,1096.7 1069.6,1090.2 1070.8,1083.4 1071.5,1081.8 1072.0,1082.5 1073.1,1088.6 1074.3,1095.3 1075.5,1099.8 1076.6,1103.0 1077.8,1105.2 1078.9,1106.3 1080.1,1107.0 1081.3,1107.6 1082.4,1107.8 1083.6,1108.1 1084.8,1108.4 1085.9,1108.7 1087.1,1108.6 1088.3,1108.6 1089.4,1108.9 1090.6,1109.2 1091.7,1109.1 1092.9,1109.0 1094.1,1108.9 1095.2,1108.9 1096.4,1109.1 1097.6,1109.5 1098.7,1109.5 1099.9,1108.9 1101.1,1108.0 1102.2,1107.2 1103.4,1107.0 1104.6,1107.1 1105.7,1106.8 1106.4,1106.2 1106.9,1106.2 1108.0,1106.9 1109.2,1107.3 1110.4,1107.9 1111.5,1108.8 1112.7,1109.1 1113.9,1108.8 1115.0,1108.8 1116.2,1109.2 1117.4,1109.4 1118.5,1109.1 1119.7,1108.7 1120.8,1108.4 1122.0,1108.2 1123.2,1108.3 1124.3,1108.5 1125.5,1108.4 1126.7,1108.5 1127.8,1108.7 1129.0,1108.1 1130.2,1107.2 1131.3,1106.3 1132.5,1104.8 1133.6,1102.4 1134.8,1100.9 1136.0,1102.4 1137.1,1104.8 1138.3,1106.1 1139.5,1106.5 1140.6,1107.0 1141.8,1107.7 1143.0,1108.0 1144.1,1108.2 1145.3,1107.6 1146.4,1106.8 1147.6,1106.7 1148.8,1107.0 1149.9,1106.5 1151.1,1105.2 1152.3,1103.4 1153.4,1100.2 1154.6,1096.2 1155.3,1095.1 1155.8,1095.5 1156.9,1098.6 1158.1,1102.2 1159.2,1104.4 1160.4,1105.9 1161.6,1106.7 1162.7,1106.9 1163.9,1107.0 1165.1,1107.1 1166.2,1107.7 1167.4,1108.4 1168.6,1108.5 1169.7,1108.4 1170.9,1108.6 1172.1,1108.6 1173.2,1108.1 1174.4,1107.7 1175.5,1107.8 1176.7,1107.8 1177.9,1107.5 1179.0,1107.5 1180.2,1107.1 1181.4,1106.1 1182.5,1105.5 1183.7,1105.4 1184.9,1105.6 1185.6,1105.4 1186.0,1105.0 1187.2,1104.7 1188.3,1105.1 1189.5,1105.4 1190.7,1105.1 1191.8,1104.9 1193.0,1104.3 1194.2,1102.9 1195.3,1100.9 1196.5,1098.0 1197.7,1094.8 1198.6,1094.0 1198.8,1094.0 1200.0,1096.5 1201.1,1100.0 1202.3,1102.3 1203.5,1104.2 1204.6,1105.4 1205.8,1105.7 1207.0,1105.8 1208.1,1105.8 1209.3,1105.4 1210.5,1105.0 1211.6,1104.9 1212.8,1104.4 1213.9,1102.6 1215.1,1099.3 1216.3,1094.7 1217.4,1091.1 1218.1,1091.0 1218.6,1091.7 1219.8,1094.3 1220.9,1098.1 1222.1,1101.4 1223.3,1103.6 1224.4,1105.3 1225.6,1106.5 1226.7,1107.0 1227.9,1107.7 1229.1,1108.3 1230.2,1108.2 1231.4,1107.7 1232.6,1107.6 1233.7,1108.1 1234.9,1109.0 1236.1,1109.3 1237.2,1109.1 1238.4,1109.1 1239.6,1109.4 1240.7,1109.7 1241.9,1109.9 1243.0,1109.7 1244.2,1109.1 1245.4,1109.1 1246.5,1109.4 1247.7,1109.3 1248.9,1109.3 1250.0,1109.6 1251.2,1109.5 1252.4,1109.4 1253.5,1109.5 1254.7,1109.4 1255.8,1109.4 1257.0,1109.6 1258.2,1109.9 1259.3,1110.0 1260.5,1109.7 1261.7,1109.6 1262.8,1109.8 1264.0,1109.7 1265.2,1109.5 1266.3,1109.7 1267.5,1109.8 1268.6,1109.5 1269.8,1109.4 1271.0,1109.6 1272.1,1109.7 1273.3,1109.5 1274.5,1109.4 1275.6,1109.4 1276.8,1109.6 1278.0,1110.0 1279.1,1110.2 1280.3,1110.0 1281.4,1110.0 1282.6,1110.1 1283.8,1109.5 1284.9,1109.0 1286.1,1109.4 1287.3,1109.9 1288.4,1109.8 1289.6,1109.2 1290.8,1108.9 1291.9,1108.7 1293.1,1108.7 1294.2,1108.7 1295.4,1108.5 1296.6,1108.0 1297.7,1107.6 1298.9,1106.9 1300.1,1106.0 1301.2,1105.2 1302.4,1103.6 1303.6,1100.6 1304.7,1096.5 1305.9,1092.6 1306.8,1091.3 1307.1,1091.0 1308.2,1093.5 1309.4,1097.9 1310.5,1101.6 1311.7,1103.7 1312.9,1104.9 1314.0,1106.4 1315.2,1107.5 1316.4,1107.9 1317.5,1108.2 1318.7,1108.7 1319.9,1109.1 1321.0,1109.3 1322.2,1109.1 1323.3,1108.7 1324.5,1108.7 1325.7,1109.3 1326.8,1109.1 1328.0,1109.0 1329.2,1109.2 1330.3,1109.0 1331.5,1108.8 1332.7,1108.7 1333.8,1108.8 1335.0,1108.8 1336.1,1108.4 1337.3,1107.9 1338.5,1107.6 1339.6,1106.9 1340.8,1105.5 1342.0,1103.6 1343.1,1101.3 1344.3,1099.2 1345.2,1098.5 1345.5,1098.0 1346.6,1099.2 1347.8,1101.8 1348.9,1104.1 1350.1,1105.7 1351.3,1107.0 1352.4,1107.9 1353.6,1108.1 1354.8,1108.1 1355.9,1107.9 1357.1,1108.1 1358.3,1108.6 1359.4,1108.7 1360.6,1108.5 1361.8,1108.1 1362.9,1107.8 1364.1,1107.6 1365.2,1107.3 1366.4,1107.1 1367.6,1105.9 1368.7,1103.9 1369.9,1102.1 1371.1,1100.7 1371.8,1100.4 1372.2,1100.6 1373.4,1102.1 1374.6,1103.9 1375.7,1105.4 1376.9,1106.5 1378.0,1107.4 1379.2,1107.9 1380.4,1108.2 1381.5,1108.3 1382.7,1108.4 1383.9,1108.5 1385.0,1108.6 1386.2,1108.9 1387.4,1108.9 1388.5,1108.6 1389.7,1108.1 1390.8,1107.9 1392.0,1108.0 1393.2,1107.8 1394.3,1107.2 1395.5,1106.2 1396.7,1104.9 1397.8,1102.9 1399.0,1101.2 1400.2,1100.5 1400.6,1100.4 1401.3,1100.3 1402.5,1101.5 1403.6,1103.3 1404.8,1104.6 1406.0,1105.5 1407.1,1106.1 1408.3,1106.2 1409.5,1105.9 1410.6,1105.2 1411.8,1103.9 1413.0,1102.4 1414.1,1099.9 1415.3,1096.4 1416.4,1094.4 1416.7,1094.2 1417.6,1094.8 1418.8,1097.5 1419.9,1100.4 1421.1,1103.5 1422.3,1105.7 1423.4,1106.4 1424.6,1106.9 1425.8,1107.6 1426.9,1107.6 1428.1,1107.5 1429.3,1108.0 1430.4,1108.6 1431.6,1108.9 1432.7,1109.0 1433.9,1108.9 1435.1,1108.4 1436.2,1108.2 1437.4,1108.7 1438.6,1108.7 1439.7,1107.9 1440.9,1107.5 1442.1,1107.3 1443.2,1106.6 1444.4,1105.7 1445.5,1104.7 1446.7,1103.3 1447.9,1101.6 1449.0,1098.6 1450.2,1093.5 1451.4,1087.0 1452.5,1081.3 1453.2,1080.0 1453.7,1080.5 1454.9,1085.9 1456.0,1092.6 1457.2,1098.0 1458.3,1101.2 1459.5,1102.9 1460.7,1104.1 1461.8,1105.3 1463.0,1106.2 1464.2,1106.9 1465.3,1107.3 1466.5,1107.4 1467.7,1107.6 1468.8,1108.1 1470.0,1108.5 1471.1,1108.5 1472.3,1108.7 1473.5,1109.4 1474.6,1109.7 1475.8,1109.6 1477.0,1109.4 1478.1,1108.9 1479.3,1108.8 1480.5,1108.8 1481.6,1108.9 1482.8,1109.2 1483.9,1109.2 1485.1,1108.9 1486.3,1108.6 1487.4,1108.7 1488.6,1108.6 1489.8,1107.7 1490.9,1106.8 1492.1,1106.4 1493.3,1105.5 1494.4,1104.2 1495.6,1103.3 1495.8,1103.3 1496.8,1103.3 1497.9,1104.2 1499.1,1105.8 1500.2,1107.1 1501.4,1107.9 1502.6,1108.4 1503.7,1108.4 1504.9,1108.6 1506.1,1109.2 1507.2,1109.4 1508.4,1109.1 1509.6,1108.6 1510.7,1108.9 1511.9,1109.6 1513.0,1109.6 1514.2,1109.4 1515.4,1109.4 1516.5,1109.2 1517.7,1109.3 1518.9,1109.4 1520.0,1108.9 1521.2,1108.4 1522.4,1108.5 1523.5,1108.6 1524.7,1108.7 1525.8,1108.5 1527.0,1108.0 1528.2,1107.8 1529.3,1107.0 1530.5,1105.4 1531.7,1103.7 1532.8,1102.3 1533.5,1101.9 1534.0,1101.9 1535.2,1103.0 1536.3,1104.6 1537.5,1105.9 1538.6,1106.7 1539.8,1107.3 1541.0,1107.7 1542.1,1107.9 1543.3,1108.0 1544.5,1107.8 1545.6,1107.2 1546.8,1107.0 1548.0,1107.1 1549.1,1106.7 1550.3,1105.1 1551.4,1102.9 1552.6,1100.3 1553.8,1097.0 1554.9,1094.3 1555.6,1094.0 1556.1,1094.3 1557.3,1096.5 1558.4,1099.5 1559.6,1102.3 1560.8,1104.6 1561.9,1106.2 1563.1,1107.2 1564.3,1108.0 1565.4,1108.3 1566.6,1108.5 1567.7,1108.7 1568.9,1108.8 1570.1,1108.7 1571.2,1108.7 1572.4,1108.9 1573.6,1108.9 1574.7,1108.8 1575.9,1108.9 1577.1,1109.3 1578.2,1109.7 1579.4,1109.7 1580.5,1109.9 1581.7,1110.3 1582.9,1110.3 1584.0,1110.0 1585.2,1109.8 1586.4,1109.8 1587.5,1109.8 1588.7,1109.7 1589.9,1109.7 1591.0,1109.4 1592.2,1109.4 1593.3,1109.8 1594.5,1109.5 1595.7,1109.3 1596.8,1109.3 1598.0,1108.7 1599.2,1107.7 1600.3,1107.3 1601.5,1106.7 1602.7,1105.3 1603.8,1104.2 1605.0,1103.9 1606.1,1104.5 1607.3,1105.5 1608.5,1106.5 1609.6,1107.3 1610.8,1107.9 1612.0,1108.4 1613.1,1108.7 1614.3,1108.9 1615.5,1108.9 1616.6,1108.7 1617.8,1108.8 1618.9,1108.7 1620.1,1108.0 1621.3,1107.5 1622.4,1107.5 1623.6,1107.3 1624.8,1106.8 1625.9,1105.8 1627.1,1104.0 1628.3,1101.8 1629.4,1100.2 1630.1,1100.3 1630.6,1100.5 1631.8,1101.4 1632.9,1103.4 1634.1,1105.4 1635.2,1106.3 1636.4,1106.4 1637.6,1106.8 1638.7,1107.3 1639.9,1107.4 1641.1,1107.1 1642.2,1105.7 1643.4,1104.2 1644.6,1103.3 1645.7,1102.2 1646.4,1102.0 1646.9,1102.0"/>
<polyline clip-path="url(#c_black)" fill="none" stroke="#000000" stroke-width="5.6" stroke-linejoin="round" stroke-linecap="butt" points="245.7,578.4 246.8,578.8 248.0,579.1 249.2,578.9 250.3,578.9 251.5,578.9 252.6,578.6 253.8,578.6 255.0,578.7 256.1,578.4 257.3,578.5 258.5,578.9 259.6,578.9 260.8,578.5 261.5,578.4 262.0,578.7 263.1,578.8 264.3,578.7 265.5,578.5 266.6,578.5 267.8,578.6 268.9,578.2 270.1,578.1 271.3,578.1 272.4,578.3 273.6,578.6 274.8,578.7 275.9,578.7 277.1,578.6 278.3,578.4 279.4,578.6 280.6,578.7 281.7,578.7 282.9,578.7 284.1,578.6 285.2,578.5 286.4,578.5 287.6,578.1 288.7,577.6 289.9,577.7 291.1,578.1 292.2,578.3 293.4,578.0 294.5,577.5 295.7,577.5 296.9,577.7 298.0,577.2 299.2,576.7 300.4,576.8 301.5,576.7 302.7,576.6 303.9,576.6 305.0,576.5 306.2,576.0 307.3,575.3 308.5,574.4 309.7,573.5 310.8,572.6 312.0,571.4 313.2,569.8 314.3,567.4 315.5,563.7 316.7,558.3 317.8,549.5 319.0,533.1 320.1,498.9 321.3,412.0 322.5,147.7 323.4,-127.6 323.6,-99.6 324.8,290.2 326.0,458.3 327.1,516.0 328.3,540.8 329.5,553.8 330.6,561.5 331.8,565.8 333.0,568.4 334.1,570.4 335.3,572.0 336.4,573.3 337.6,574.3 338.8,574.8 339.9,575.3 341.1,575.8 342.3,576.3 343.4,576.6 344.6,576.8 345.8,576.8 346.9,576.7 348.1,576.9 349.2,577.3 350.4,577.7 351.6,577.8 352.7,577.7 353.9,577.8 355.1,578.0 356.2,578.1 357.4,578.1 358.6,578.1 359.7,578.0 360.9,577.9 362.0,577.9 363.2,578.2 364.4,578.5 365.5,578.3 366.7,578.3 367.9,578.5 369.0,578.6 370.2,578.6 371.4,578.7 372.5,578.4 373.7,578.3 374.8,578.5 376.0,578.6 377.2,578.7 378.3,578.8 379.5,578.7 380.7,578.3 381.8,578.2 383.0,578.5 384.2,578.5 385.3,578.0 386.5,578.0 387.6,578.5 388.8,578.1 390.0,577.8 391.1,578.2 392.3,578.4 393.5,578.2 394.6,578.2 395.8,578.5 397.0,578.4 398.1,577.9 399.3,577.7 400.5,577.7 401.6,577.7 402.8,577.5 403.9,577.0 405.1,576.6 406.3,576.2 407.4,575.3 408.6,573.8 409.8,571.8 410.9,568.3 412.1,561.1 413.3,543.3 414.4,496.5 415.3,456.8 415.6,460.4 416.7,520.7 417.9,553.1 419.1,564.6 420.2,569.5 421.4,572.6 422.6,574.6 423.7,575.7 424.9,576.4 426.1,576.9 427.2,577.5 428.4,577.7 429.5,577.8 430.7,577.8 431.9,577.7 433.0,577.8 434.2,577.7 435.4,577.7 436.5,577.5 437.7,577.6 438.9,578.2 440.0,578.1 441.2,577.3 442.3,577.0 443.5,577.3 444.7,577.4 445.8,577.0 447.0,576.5 448.2,576.1 449.3,575.5 450.5,574.6 451.7,572.8 452.8,568.8 454.0,560.6 455.1,541.3 456.3,503.0 456.8,495.4 457.5,510.8 458.6,546.9 459.8,563.0 461.0,569.6 462.1,572.7 463.3,574.3 464.5,575.2 465.6,575.9 466.8,576.9 468.0,577.6 469.1,577.6 470.3,577.5 471.4,577.5 472.6,577.7 473.8,578.0 474.9,578.1 476.1,578.0 477.3,578.0 478.4,578.6 479.6,579.2 480.8,579.1 481.9,579.0 483.1,578.6 484.2,578.1 485.4,578.5 486.6,578.7 487.7,578.4 488.9,578.6 490.1,578.8 491.2,578.3 492.4,578.3 493.6,578.3 494.7,578.1 495.9,578.0 497.0,577.9 498.2,577.9 499.4,577.9 500.5,578.3 501.7,578.3 502.9,577.9 504.0,578.1 505.2,578.4 506.4,578.3 507.5,578.1 508.7,577.7 509.8,577.4 511.0,576.8 512.2,576.2 513.3,576.1 514.5,576.1 515.2,576.0 515.7,576.1 516.8,576.3 518.0,576.5 519.2,576.9 520.3,577.2 521.5,577.4 522.7,577.7 523.8,577.5 525.0,577.0 526.1,576.9 527.3,576.7 528.5,576.4 529.6,576.6 530.8,576.3 532.0,576.1 533.1,575.6 534.3,574.2 535.5,573.1 536.6,571.9 537.8,569.6 538.9,566.7 540.1,562.6 541.3,555.4 542.4,542.6 543.6,518.6 544.8,479.1 545.9,451.4 547.1,478.9 548.3,518.0 549.4,542.1 550.6,555.2 551.7,562.7 552.9,567.3 554.1,569.8 555.2,571.4 556.4,572.9 557.6,574.2 558.7,575.3 559.9,576.2 561.1,576.5 562.2,576.4 563.4,576.5 564.5,576.8 565.7,577.3 566.9,577.6 568.0,577.5 569.2,577.4 570.4,577.6 571.5,577.8 572.7,577.9 573.9,578.1 575.0,578.3 576.2,578.2 577.3,578.2 578.5,578.1 579.7,578.2 580.8,578.3 582.0,578.4 583.2,578.3 584.3,578.1 585.5,578.2 586.7,578.4 587.8,578.0 589.0,577.9 590.2,578.5 591.3,578.8 592.5,578.7 593.6,578.3 594.8,577.9 596.0,578.1 597.1,578.3 598.3,578.2 599.5,578.0 600.6,577.8 601.8,577.6 603.0,577.6 604.1,577.3 605.3,576.8 606.4,576.7 607.6,576.8 608.8,576.6 609.9,576.3 611.1,575.4 612.3,573.8 613.4,571.1 614.6,566.0 615.8,555.9 616.9,539.3 617.6,534.1 618.1,536.7 619.2,552.6 620.4,564.1 621.6,569.8 622.7,572.6 623.9,574.5 625.1,575.8 626.2,576.3 627.4,576.5 628.6,577.3 629.7,578.1 630.9,578.4 632.0,578.6 633.2,578.4 634.4,577.7 635.5,577.3 636.7,577.4 637.9,577.4 639.0,577.3 640.2,577.3 641.4,577.1 642.5,576.9 643.7,576.6 644.8,576.3 646.0,575.5 647.2,574.8 648.3,574.0 649.5,572.8 650.7,571.0 651.8,567.9 653.0,562.4 654.2,553.1 655.3,536.8 656.5,515.6 657.2,509.7 657.7,512.3 658.8,532.7 660.0,550.6 661.1,560.9 662.3,566.7 663.5,570.5 664.6,573.1 665.8,574.2 667.0,574.8 668.1,575.7 669.3,576.2 670.5,576.5 671.6,576.7 672.8,576.7 673.9,576.7 675.1,576.9 676.3,577.7 677.4,578.0 678.6,577.4 679.8,577.2 680.0,577.6 680.9,578.0 682.1,578.0 683.3,577.8 684.4,578.0 685.6,578.2 686.7,578.3 687.9,578.5 689.1,578.6 690.2,578.4 691.4,578.0 692.6,578.1 693.7,578.3 694.9,578.3 696.1,578.4 697.2,578.4 698.4,578.1 699.5,577.7 700.7,577.7 701.9,578.0 703.0,578.0 704.2,577.5 705.4,577.3 706.5,577.3 707.7,577.4 708.9,577.2 710.0,576.2 711.2,574.2 712.3,571.3 713.5,566.2 714.7,561.8 715.8,565.6 717.0,571.2 718.2,574.5 719.3,575.7 720.5,575.6 721.7,575.3 722.8,575.4 724.0,575.5 725.2,574.6 726.3,573.2 727.5,572.2 728.6,570.1 729.8,566.3 731.0,560.8 732.1,550.7 733.3,530.8 734.5,498.8 735.4,483.0 735.6,483.8 736.8,511.9 738.0,540.0 739.1,555.5 740.3,563.6 741.4,568.3 742.6,571.1 743.8,572.7 744.9,573.8 746.1,574.6 747.3,575.7 748.4,576.8 749.6,577.0 750.8,576.8 751.9,577.1 753.1,577.4 754.2,577.6 755.4,577.6 756.6,577.6 757.7,577.6 758.9,577.7 760.1,577.7 761.2,577.8 762.4,577.9 763.6,577.9 764.7,578.1 765.9,578.0 767.0,577.6 768.2,577.6 769.4,577.9 770.5,578.1 771.7,578.1 772.9,577.7 774.0,577.7 775.2,577.9 776.4,577.8 777.5,577.4 778.7,576.9 779.9,576.8 781.0,576.6 782.2,575.6 783.3,573.9 784.5,570.4 785.7,566.0 786.1,565.7 786.8,567.5 788.0,572.1 789.2,574.9 790.3,576.0 791.5,576.7 792.7,577.3 793.8,577.7 795.0,577.8 796.1,577.4 797.3,577.2 798.5,577.2 799.6,577.1 800.8,576.9 802.0,577.1 803.1,577.4 804.3,577.1 805.5,576.7 806.6,576.3 807.8,575.8 808.9,575.2 810.1,573.7 811.3,571.2 812.4,567.3 813.6,559.1 814.8,542.5 815.9,519.7 816.4,516.1 817.1,523.4 818.3,546.5 819.4,560.7 820.6,567.8 821.7,571.6 822.9,573.7 824.1,575.0 825.2,575.4 826.4,575.7 827.6,576.2 828.7,576.7 829.9,576.6 831.1,576.2 832.0,576.2 832.2,576.3 833.4,576.5 834.5,576.9 835.7,577.1 836.9,577.4 838.0,577.9 839.2,577.9 840.4,577.6 841.5,577.7 842.7,577.9 843.9,578.0 845.0,578.3 846.2,578.2 847.4,577.8 848.5,578.0 849.7,578.5 850.8,578.6 852.0,578.4 853.2,578.5 854.3,578.5 855.5,578.4 856.7,578.7 857.8,578.9 859.0,578.6 860.2,578.5 861.3,578.8 862.5,578.6 863.6,578.4 864.8,578.8 866.0,578.7 867.1,578.0 868.3,577.2 869.5,577.0 870.6,577.0 871.8,576.5 873.0,575.2 874.1,572.7 875.3,568.5 876.4,562.0 877.1,559.8 877.6,560.6 878.8,566.7 879.9,571.8 881.1,574.3 882.3,575.5 883.4,576.3 884.6,576.6 885.8,577.1 886.9,577.2 888.1,576.6 889.2,576.8 890.4,577.5 891.6,577.6 892.7,577.3 893.9,576.9 895.1,576.3 896.2,575.4 897.4,574.4 898.6,573.0 899.7,570.5 900.9,565.4 902.0,556.4 903.2,546.9 903.4,546.3 904.4,551.4 905.5,562.2 906.7,568.7 907.9,571.5 909.0,572.8 910.2,573.3 911.4,573.3 912.5,572.9 913.7,571.8 914.9,569.1 916.0,562.6 917.2,548.6 918.3,523.4 919.0,514.5 919.5,518.8 920.7,544.1 921.8,560.1 923.0,567.8 924.2,571.6 925.3,573.7 926.5,575.1 927.7,576.0 928.8,576.7 930.0,577.2 931.1,577.5 932.3,577.5 933.5,577.3 934.6,577.5 935.8,577.4 937.0,576.9 938.1,576.5 939.3,576.0 940.5,575.3 941.6,574.1 942.8,571.2 943.9,566.7 944.4,565.7 945.1,567.1 946.3,571.3 947.4,574.2 948.6,575.9 949.8,576.7 950.9,576.8 952.1,576.7 953.3,576.6 954.4,576.2 955.6,575.5 956.7,574.3 957.9,573.2 958.4,573.4 959.1,573.8 960.2,574.8 961.4,576.1 962.6,577.0 963.7,577.3 964.9,577.5 966.1,577.7 967.2,577.8 968.4,578.0 969.5,577.8 970.7,577.3 971.9,577.2 973.0,577.3 974.2,576.9 975.4,576.4 976.5,575.6 977.7,574.4 978.9,571.6 980.0,565.9 981.2,556.9 982.1,552.3 982.4,552.4 983.5,560.0 984.7,567.7 985.8,572.2 987.0,574.3 988.2,575.2 989.3,575.9 990.5,576.4 991.7,576.3 992.8,575.7 994.0,574.2 995.2,571.0 996.1,569.2 996.3,569.1 997.5,572.0 998.6,574.7 999.8,576.1 1001.0,577.2 1002.1,577.9 1003.3,578.3 1004.5,578.3 1005.6,578.0 1006.8,578.2 1008.0,578.5 1009.1,578.5 1010.3,578.4 1011.4,578.5 1012.6,578.5 1013.8,578.5 1014.9,578.6 1016.1,579.0 1017.3,578.8 1018.4,578.0 1019.6,578.1 1020.8,578.8 1021.9,578.7 1023.1,578.4 1024.2,578.5 1025.4,578.8 1026.6,579.0 1027.7,579.0 1028.9,578.9 1030.1,578.8 1031.2,578.9 1032.4,578.7 1033.6,578.4 1034.7,578.5 1035.9,579.0 1037.0,579.1 1038.2,578.9 1039.4,578.6 1040.5,578.5 1041.7,578.5 1042.9,578.7 1044.0,579.0 1045.2,578.9 1046.4,578.6 1047.5,578.8 1048.7,579.2 1049.9,579.3 1051.0,579.3 1052.2,578.9 1053.3,578.6 1054.5,578.3 1055.7,578.2 1056.8,578.3 1058.0,578.2 1059.2,578.2 1060.3,578.5 1061.5,578.5 1062.7,578.0 1063.8,577.6 1065.0,577.4 1066.1,576.8 1067.3,575.5 1068.5,573.7 1069.6,571.4 1070.8,568.8 1071.5,567.9 1072.0,568.1 1073.1,570.1 1074.3,572.5 1075.5,575.0 1076.6,576.6 1077.8,577.3 1078.9,577.6 1080.1,578.3 1081.3,579.0 1082.4,578.8 1083.6,578.3 1084.8,578.4 1085.9,578.8 1087.1,578.9 1088.3,578.8 1089.4,578.8 1090.6,578.6 1091.7,578.6 1092.9,578.7 1094.1,578.7 1095.2,578.5 1096.4,578.4 1097.6,578.5 1098.7,578.6 1099.9,578.8 1101.1,579.0 1102.2,579.2 1103.4,579.1 1104.6,578.9 1105.7,578.7 1106.9,578.6 1108.0,579.0 1109.2,579.0 1110.4,578.4 1111.5,578.7 1112.7,579.1 1113.9,578.9 1115.0,578.9 1116.2,579.3 1117.4,579.1 1118.5,578.7 1119.7,578.4 1120.8,578.3 1122.0,578.4 1123.2,578.4 1124.3,578.6 1125.5,578.8 1126.7,578.6 1127.8,578.4 1129.0,578.3 1130.2,577.8 1131.3,577.3 1132.5,576.4 1133.6,574.9 1134.8,574.4 1136.0,575.5 1137.1,576.6 1138.3,577.2 1139.5,577.6 1140.6,578.0 1141.8,578.4 1143.0,578.3 1144.1,578.1 1145.3,578.0 1146.4,578.1 1147.6,578.2 1148.8,578.0 1149.9,577.7 1151.1,577.3 1152.3,576.6 1153.4,575.5 1154.6,574.6 1155.3,574.8 1155.8,574.8 1156.9,575.6 1158.1,576.7 1159.2,577.3 1160.4,577.4 1161.6,577.6 1162.7,577.9 1163.9,578.4 1165.1,578.8 1166.2,578.7 1167.4,578.4 1168.6,578.0 1169.7,578.1 1170.9,578.3 1172.1,578.6 1173.2,578.8 1174.4,578.6 1175.5,578.4 1176.7,578.4 1177.9,578.6 1179.0,578.9 1180.2,578.9 1181.4,578.6 1182.5,578.3 1183.7,578.3 1184.9,578.4 1186.0,578.5 1187.2,578.2 1188.3,578.0 1189.5,577.9 1190.7,577.7 1191.8,577.3 1193.0,576.7 1194.2,576.1 1195.3,574.8 1196.5,572.8 1197.7,570.4 1198.6,569.5 1198.8,569.6 1200.0,571.5 1201.1,573.9 1202.3,574.9 1203.5,575.6 1204.6,576.7 1205.8,577.3 1207.0,577.1 1208.1,576.7 1209.3,576.7 1210.5,576.7 1211.6,576.1 1212.8,575.0 1213.9,573.6 1215.1,571.7 1216.3,569.7 1217.4,568.1 1218.1,567.8 1218.6,568.3 1219.8,570.2 1220.9,572.3 1222.1,574.1 1223.3,575.8 1224.4,576.6 1225.6,577.0 1226.7,577.3 1227.9,577.6 1229.1,577.8 1230.2,577.8 1231.4,578.1 1232.6,578.4 1233.7,578.0 1234.9,577.9 1236.1,578.2 1237.2,578.3 1238.4,578.4 1239.6,578.7 1240.7,578.6 1241.9,578.4 1243.0,578.4 1244.2,578.4 1245.4,578.6 1246.5,578.8 1247.7,579.0 1248.9,579.0 1250.0,578.7 1251.2,578.4 1252.4,578.6 1253.5,579.0 1254.7,578.8 1255.8,579.2 1257.0,579.5 1258.2,579.3 1259.3,579.1 1260.5,579.0 1261.7,579.2 1262.8,579.2 1264.0,579.1 1265.2,579.2 1266.3,579.1 1267.5,578.7 1268.6,578.5 1269.8,578.6 1271.0,578.8 1272.1,578.8 1273.3,578.5 1274.5,578.5 1275.6,578.5 1276.8,578.5 1278.0,578.4 1279.1,578.5 1280.3,578.8 1281.4,578.7 1282.6,578.4 1283.8,578.5 1284.9,578.6 1286.1,578.7 1287.3,578.8 1288.4,578.8 1289.6,578.5 1290.8,578.4 1291.9,578.1 1293.1,578.2 1294.2,578.5 1295.4,578.3 1296.6,578.2 1297.7,578.0 1298.9,577.5 1300.1,576.9 1301.2,575.9 1302.4,575.1 1303.6,574.1 1304.7,572.0 1305.9,570.0 1306.8,569.3 1307.1,568.9 1308.2,570.1 1309.4,572.5 1310.5,574.5 1311.7,575.7 1312.9,576.5 1314.0,576.8 1315.2,577.0 1316.4,577.7 1317.5,578.4 1318.7,578.3 1319.9,578.0 1321.0,578.1 1322.2,578.5 1323.3,578.6 1324.5,578.4 1325.7,578.2 1326.8,578.3 1328.0,578.7 1329.2,578.6 1330.3,578.2 1331.5,578.2 1332.7,578.1 1333.8,578.0 1335.0,578.0 1336.1,578.0 1337.3,578.1 1338.5,578.2 1339.6,577.8 1340.8,576.9 1342.0,576.0 1343.1,574.9 1344.3,573.6 1345.2,573.2 1345.5,573.1 1346.6,574.0 1347.8,575.7 1348.9,576.8 1350.1,576.9 1351.3,577.6 1352.4,578.5 1353.6,578.4 1354.8,578.2 1355.9,578.2 1357.1,578.4 1358.3,578.5 1359.4,578.5 1360.6,578.4 1361.8,578.5 1362.9,578.4 1364.1,578.2 1365.2,578.0 1366.4,578.1 1367.6,578.0 1368.7,577.5 1369.9,577.0 1371.1,576.4 1371.8,576.1 1372.2,576.1 1373.4,577.1 1374.6,578.0 1375.7,578.0 1376.9,578.0 1378.0,578.3 1379.2,578.7 1380.4,579.0 1381.5,578.7 1382.7,578.7 1383.9,579.1 1385.0,579.1 1386.2,578.8 1387.4,578.4 1388.5,578.1 1389.7,578.0 1390.8,578.3 1392.0,578.8 1393.2,578.7 1394.3,577.9 1395.5,577.5 1396.7,577.5 1397.8,577.5 1399.0,577.5 1400.2,577.4 1400.6,577.1 1401.3,576.9 1402.5,577.1 1403.6,577.4 1404.8,577.5 1406.0,577.3 1407.1,577.1 1408.3,577.0 1409.5,576.8 1410.6,576.9 1411.8,576.5 1413.0,575.4 1414.1,573.8 1415.3,572.0 1416.4,570.9 1416.7,570.7 1417.6,571.1 1418.8,572.7 1419.9,574.7 1421.1,576.1 1422.3,577.0 1423.4,577.7 1424.6,577.7 1425.8,577.6 1426.9,578.1 1428.1,578.7 1429.3,578.7 1430.4,578.1 1431.6,577.7 1432.7,577.9 1433.9,578.5 1435.1,578.7 1436.2,578.7 1437.4,578.8 1438.6,578.4 1439.7,577.7 1440.9,577.4 1442.1,577.3 1443.2,577.1 1444.4,577.0 1445.5,576.8 1446.7,576.3 1447.9,575.4 1449.0,574.1 1450.2,572.1 1451.4,569.3 1452.5,566.6 1453.2,566.1 1453.7,566.7 1454.9,568.9 1456.0,572.0 1457.2,574.2 1458.3,575.1 1459.5,575.4 1460.7,575.8 1461.8,576.7 1463.0,577.5 1464.2,577.5 1465.3,577.8 1466.5,578.4 1467.7,578.2 1468.8,578.1 1470.0,578.3 1471.1,578.4 1472.3,578.3 1473.5,578.2 1474.6,578.5 1475.8,578.7 1477.0,578.6 1478.1,578.8 1479.3,578.9 1480.5,578.5 1481.6,578.3 1482.8,578.4 1483.9,578.5 1485.1,578.6 1486.3,578.6 1487.4,578.5 1488.6,578.2 1489.8,577.9 1490.9,577.8 1492.1,577.5 1493.3,577.0 1494.4,577.1 1495.6,577.0 1495.8,576.6 1496.8,576.9 1497.9,577.6 1499.1,578.0 1500.2,578.0 1501.4,578.1 1502.6,578.2 1503.7,578.2 1504.9,578.3 1506.1,578.6 1507.2,578.6 1508.4,578.8 1509.6,579.2 1510.7,578.9 1511.9,578.5 1513.0,578.4 1514.2,578.5 1515.4,578.8 1516.5,579.1 1517.7,578.8 1518.9,578.5 1520.0,578.7 1521.2,578.7 1522.4,578.6 1523.5,578.5 1524.7,578.6 1525.8,578.8 1527.0,578.2 1528.2,577.4 1529.3,577.3 1530.5,577.2 1531.7,576.7 1532.8,576.1 1533.5,576.0 1534.0,576.0 1535.2,576.4 1536.3,577.2 1537.5,577.5 1538.6,577.7 1539.8,578.1 1541.0,578.3 1542.1,578.2 1543.3,578.3 1544.5,578.3 1545.6,578.2 1546.8,577.9 1548.0,577.6 1549.1,577.1 1550.3,576.1 1551.4,575.1 1552.6,574.2 1553.8,572.7 1554.9,571.3 1555.6,570.9 1556.1,570.8 1557.3,572.4 1558.4,574.4 1559.6,575.8 1560.8,576.6 1561.9,577.0 1563.1,577.4 1564.3,578.2 1565.4,578.6 1566.6,578.8 1567.7,578.7 1568.9,578.3 1570.1,578.1 1571.2,578.2 1572.4,578.5 1573.6,578.6 1574.7,578.7 1575.9,579.0 1577.1,579.1 1578.2,579.3 1579.4,579.2 1580.5,579.0 1581.7,579.1 1582.9,579.0 1584.0,578.7 1585.2,578.6 1586.4,578.6 1587.5,578.6 1588.7,578.6 1589.9,578.7 1591.0,578.8 1592.2,579.0 1593.3,578.8 1594.5,578.3 1595.7,578.5 1596.8,578.6 1598.0,578.3 1599.2,578.3 1600.3,578.6 1601.5,578.3 1602.7,577.7 1603.8,577.4 1605.0,577.2 1606.1,577.1 1607.3,577.5 1608.5,578.0 1609.6,578.1 1610.8,577.8 1612.0,577.8 1613.1,578.3 1614.3,578.3 1615.5,577.9 1616.6,578.2 1617.8,578.7 1618.9,578.9 1620.1,578.9 1621.3,578.9 1622.4,578.7 1623.6,578.4 1624.8,578.2 1625.9,577.8 1627.1,577.4 1628.3,577.0 1629.4,576.4 1630.1,576.3 1630.6,576.3 1631.8,576.6 1632.9,577.2 1634.1,577.7 1635.2,577.9 1636.4,577.8 1637.6,577.6 1638.7,577.8 1639.9,578.1 1641.1,578.2 1642.2,578.4 1643.4,578.5 1644.6,578.8 1645.7,579.1 1646.9,579.1"/>
<polyline clip-path="url(#c_magenta)" fill="none" stroke="#ff00ff" stroke-width="6" stroke-linejoin="round" stroke-linecap="butt" points="245.7,3484.0 246.8,3483.4 248.0,3483.7 249.2,3485.0 250.3,3485.2 251.5,3483.3 252.6,3482.8 253.8,3483.2 255.0,3482.6 256.1,3481.7 257.3,3480.9 258.5,3481.3 259.6,3481.9 260.8,3481.4 262.0,3481.4 263.1,3481.6 264.3,3481.5 265.5,3481.3 266.6,3480.6 267.8,3480.2 268.9,3479.8 270.1,3479.9 271.3,3481.1 272.4,3481.1 273.6,3480.5 274.8,3480.5 275.5,3479.6 275.9,3479.6 277.1,3480.2 278.3,3480.5 279.4,3481.3 280.6,3481.6 281.7,3480.5 282.9,3480.1 284.1,3480.8 285.2,3482.0 286.4,3483.2 287.6,3483.1 288.7,3482.3 289.9,3481.6 291.1,3481.4 292.2,3482.5 293.4,3482.9 294.5,3482.4 295.7,3483.1 296.9,3483.6 298.0,3483.1 299.2,3483.7 300.4,3484.4 301.5,3484.3 302.7,3483.4 303.9,3483.1 305.0,3483.6 306.2,3483.9 307.3,3483.4 308.5,3482.2 309.7,3482.6 310.8,3483.9 312.0,3483.8 313.2,3483.3 314.3,3484.0 315.5,3484.7 316.7,3484.5 317.8,3483.8 319.0,3484.1 320.1,3484.7 321.3,3484.7 322.5,3485.6 323.6,3486.1 324.8,3484.7 326.0,3483.6 327.1,3483.3 328.3,3482.7 329.5,3482.6 330.6,3483.7 331.8,3484.6 333.0,3485.0 334.1,3485.2 335.3,3484.8 336.4,3484.2 337.6,3483.7 338.8,3484.0 339.9,3484.8 341.1,3484.3 342.3,3483.7 343.4,3483.4 344.6,3483.6 345.8,3483.8 346.9,3483.3 348.1,3483.1 349.2,3482.8 350.4,3482.7 351.6,3482.3 352.7,3480.5 353.9,3478.4 355.1,3477.0 356.2,3474.1 357.4,3465.3 358.6,3433.6 359.7,3345.0 360.9,3244.3 361.1,3239.5 362.0,3296.5 363.2,3406.7 364.4,3459.2 365.5,3472.6 366.7,3476.2 367.9,3478.5 369.0,3480.1 370.2,3480.7 371.4,3479.8 372.5,3478.7 373.7,3478.9 374.8,3478.7 376.0,3476.4 377.2,3471.7 378.3,3462.2 379.5,3443.4 380.7,3409.8 381.8,3365.7 383.0,3335.1 383.2,3333.6 384.2,3343.6 385.3,3373.8 386.5,3395.6 387.6,3405.5 388.1,3410.1 388.8,3420.0 390.0,3442.0 391.1,3460.9 392.3,3472.0 393.5,3476.9 394.6,3479.1 395.8,3480.5 397.0,3481.2 398.1,3481.8 399.3,3482.5 400.5,3482.8 401.6,3483.3 402.8,3484.0 403.9,3483.7 405.1,3484.8 406.3,3486.1 407.4,3485.0 408.6,3484.2 409.8,3484.1 410.9,3484.5 412.1,3484.4 413.3,3484.1 414.4,3484.8 415.6,3485.2 416.7,3484.3 417.9,3483.1 419.1,3482.7 420.2,3483.0 421.4,3483.6 422.6,3483.6 423.7,3483.4 424.9,3484.0 426.1,3484.6 427.2,3484.4 428.4,3484.8 429.5,3485.2 430.7,3484.7 431.9,3484.3 433.0,3483.9 434.2,3484.2 435.4,3484.7 436.5,3484.9 437.7,3485.0 438.9,3484.5 440.0,3483.6 441.2,3483.9 442.3,3484.6 443.5,3484.9 444.7,3484.8 445.8,3485.0 447.0,3484.8 448.2,3483.8 449.3,3482.5 450.5,3479.3 451.7,3472.2 452.8,3463.9 453.5,3462.7 454.0,3463.7 455.1,3470.9 456.3,3478.5 457.5,3483.3 458.6,3484.2 459.8,3483.4 461.0,3482.9 462.1,3482.5 463.3,3482.7 464.5,3482.9 465.6,3482.4 466.8,3481.2 468.0,3481.0 469.1,3482.3 470.3,3482.4 471.4,3482.9 472.6,3483.8 473.8,3484.1 474.9,3484.2 476.1,3483.3 477.3,3482.5 478.4,3483.0 479.6,3483.2 480.8,3480.6 481.9,3475.1 483.1,3467.3 484.2,3462.0 485.4,3467.4 486.6,3476.1 487.7,3481.9 488.9,3484.3 490.1,3484.6 491.2,3483.7 492.4,3482.4 493.6,3481.5 494.7,3481.0 495.9,3480.6 497.0,3477.0 498.2,3466.1 499.4,3453.3 499.8,3450.7 500.5,3453.4 501.7,3467.3 502.9,3477.5 504.0,3481.0 505.2,3481.7 506.4,3482.6 507.5,3483.9 508.7,3484.4 509.8,3483.7 511.0,3482.9 512.2,3483.0 513.3,3482.7 514.5,3481.3 515.7,3480.3 516.8,3477.2 518.0,3469.9 519.2,3458.6 520.3,3446.1 521.3,3441.5 521.5,3441.6 522.7,3450.1 523.8,3463.4 525.0,3473.2 526.1,3478.1 527.3,3480.3 528.5,3481.1 529.6,3480.7 530.8,3480.3 532.0,3481.6 533.1,3482.1 534.3,3477.6 535.5,3466.5 536.6,3450.9 537.5,3444.5 537.8,3445.4 538.9,3457.7 540.1,3471.9 541.3,3478.4 542.4,3478.0 543.6,3472.1 544.8,3461.3 545.9,3448.3 547.1,3441.4 548.3,3449.4 549.4,3463.3 550.6,3473.1 551.7,3478.0 552.9,3480.5 554.1,3481.5 555.2,3481.7 556.4,3482.3 557.6,3482.0 558.7,3479.4 559.9,3475.6 561.1,3472.4 561.3,3472.1 562.2,3474.1 563.4,3478.9 564.5,3481.4 565.7,3482.4 566.9,3484.3 568.0,3484.9 569.2,3483.7 570.4,3483.2 571.5,3483.2 572.7,3483.4 573.9,3483.8 575.0,3484.2 576.2,3484.1 577.3,3481.8 578.5,3477.0 579.7,3471.6 580.4,3469.9 580.8,3469.9 582.0,3475.2 583.2,3479.8 584.3,3481.2 585.5,3481.3 586.7,3481.0 587.8,3477.9 589.0,3469.9 590.2,3464.1 591.3,3469.3 592.5,3477.3 593.6,3482.2 594.8,3483.9 596.0,3484.0 597.1,3484.0 598.3,3484.3 599.5,3484.0 600.6,3483.5 601.8,3483.4 603.0,3483.4 604.1,3483.6 605.3,3484.1 606.4,3483.9 607.6,3483.1 608.8,3483.3 609.9,3483.8 611.1,3484.7 612.3,3485.6 613.4,3485.3 614.6,3484.8 615.8,3484.2 616.9,3483.3 618.1,3483.0 619.2,3481.4 620.4,3476.8 621.6,3467.2 622.7,3450.9 623.7,3442.6 623.9,3443.7 625.1,3457.8 626.2,3472.1 627.4,3478.5 628.6,3481.6 629.7,3484.0 630.9,3483.9 632.0,3483.0 633.2,3483.5 634.4,3484.2 635.5,3483.4 636.7,3482.0 637.9,3482.5 639.0,3483.5 640.2,3483.5 641.4,3482.9 642.5,3483.0 643.7,3482.9 644.8,3480.0 646.0,3473.1 647.2,3458.3 648.3,3435.5 649.3,3425.5 649.5,3425.9 650.7,3444.4 651.8,3464.7 653.0,3474.6 654.2,3479.0 655.3,3481.0 656.5,3479.1 657.7,3472.7 658.8,3458.6 660.0,3440.4 660.7,3436.4 661.1,3438.5 662.3,3455.7 663.5,3471.8 664.6,3479.4 665.8,3481.5 667.0,3481.2 668.1,3481.3 669.3,3482.6 670.5,3483.6 671.6,3483.6 672.8,3483.3 673.9,3483.1 675.1,3483.3 676.3,3484.1 677.4,3484.2 678.6,3482.8 679.8,3480.7 680.9,3477.5 682.1,3472.3 682.8,3470.8 683.3,3472.8 684.4,3478.0 685.6,3481.1 686.7,3481.1 687.9,3480.6 689.1,3480.1 690.2,3477.0 691.4,3470.8 692.6,3466.7 693.7,3469.8 694.9,3475.2 696.1,3478.0 697.2,3478.6 698.4,3479.7 699.5,3479.5 700.7,3477.6 701.9,3476.3 703.0,3476.2 704.2,3474.9 705.4,3471.7 706.5,3468.0 707.7,3462.9 708.9,3453.1 710.0,3430.8 711.2,3362.6 712.3,3193.1 713.5,2979.6 714.0,2943.8 714.7,2980.6 715.8,3111.8 717.0,3111.4 718.2,3040.3 718.4,3039.0 719.3,3111.0 720.5,3263.3 721.7,3362.3 722.8,3397.7 724.0,3405.8 724.7,3408.2 725.2,3410.6 726.3,3417.2 727.5,3419.4 728.6,3402.0 729.8,3342.0 731.0,3236.3 732.1,3151.8 732.4,3148.8 733.3,3196.1 734.5,3312.8 735.6,3400.8 736.8,3441.2 738.0,3452.2 739.1,3449.0 740.3,3433.4 741.4,3401.4 742.6,3361.4 743.5,3342.1 743.8,3340.6 744.9,3354.4 746.1,3368.4 747.3,3369.8 748.0,3373.8 748.4,3380.5 749.6,3410.6 750.8,3441.7 751.9,3461.9 753.1,3471.8 754.2,3476.2 755.4,3477.5 756.6,3478.2 757.7,3479.0 758.9,3479.8 760.1,3480.9 761.2,3481.4 762.4,3481.3 763.6,3480.5 764.7,3479.4 765.9,3478.0 767.0,3475.4 768.2,3470.0 769.4,3461.8 770.5,3452.8 771.7,3447.1 772.9,3447.8 774.0,3450.2 775.2,3445.6 776.4,3431.6 777.5,3420.5 777.8,3420.4 778.7,3428.2 779.9,3447.2 781.0,3463.7 782.2,3473.9 783.3,3479.0 784.5,3481.1 785.7,3481.3 786.8,3480.2 788.0,3478.5 789.2,3476.4 790.3,3474.0 791.5,3470.7 792.7,3464.9 793.8,3458.2 795.0,3453.8 795.7,3453.5 796.1,3453.5 797.3,3454.0 798.5,3455.2 799.6,3450.8 800.8,3437.7 802.0,3425.5 802.4,3425.0 803.1,3430.3 804.3,3447.7 805.5,3463.6 806.6,3474.2 807.8,3479.6 808.9,3481.5 810.1,3481.8 811.3,3479.6 812.4,3473.6 813.6,3463.2 814.8,3456.3 815.9,3462.7 817.1,3472.3 818.3,3478.6 819.4,3481.3 820.6,3482.2 821.7,3483.0 822.9,3483.0 824.1,3482.0 825.2,3481.2 826.4,3480.9 827.6,3480.8 828.7,3479.4 829.9,3476.4 831.1,3473.7 831.8,3473.7 832.2,3474.4 833.4,3474.8 834.5,3475.1 835.7,3474.8 836.9,3473.4 838.0,3471.1 838.7,3469.9 839.2,3470.2 840.4,3473.3 841.5,3476.8 842.7,3479.1 843.9,3480.4 845.0,3481.3 846.2,3481.3 847.4,3481.0 848.5,3481.7 849.7,3481.8 850.8,3479.6 852.0,3476.0 853.2,3470.4 854.3,3457.6 855.5,3435.7 856.7,3416.6 857.1,3415.2 857.8,3420.6 859.0,3440.9 860.2,3459.8 861.3,3471.0 862.5,3476.5 863.6,3478.6 864.8,3478.0 866.0,3475.5 867.1,3471.1 868.3,3462.2 869.5,3445.8 870.6,3421.4 871.8,3393.8 873.0,3376.3 873.2,3375.9 874.1,3383.1 875.3,3405.9 876.4,3429.3 877.6,3443.4 878.8,3447.8 879.9,3447.6 881.1,3447.6 882.3,3451.6 883.4,3458.6 884.6,3465.1 885.8,3470.9 886.9,3476.0 888.1,3479.5 889.2,3481.7 890.4,3482.7 891.6,3482.6 892.7,3481.8 893.9,3481.8 895.1,3482.6 896.2,3482.1 897.4,3481.1 898.6,3479.0 899.7,3473.0 900.9,3463.6 901.8,3459.2 902.0,3458.8 903.2,3466.6 904.4,3475.8 905.5,3479.9 906.7,3481.6 907.9,3482.9 909.0,3482.9 910.2,3483.1 911.4,3484.4 912.5,3484.5 913.7,3483.4 914.9,3483.4 916.0,3484.5 917.2,3484.7 918.3,3483.6 919.5,3483.1 920.7,3484.0 921.8,3483.5 923.0,3480.9 924.2,3479.0 924.9,3479.8 925.3,3480.3 926.5,3481.3 927.7,3482.1 928.8,3482.8 930.0,3484.1 931.1,3484.1 932.3,3482.7 933.5,3482.0 934.6,3479.4 935.8,3473.6 937.0,3465.8 937.9,3462.8 938.1,3464.0 939.3,3471.5 940.5,3479.4 941.6,3483.2 942.8,3484.2 943.9,3484.1 945.1,3482.6 946.3,3482.7 947.4,3485.2 948.6,3485.4 949.8,3483.8 950.9,3483.2 952.1,3482.4 953.3,3479.3 954.4,3475.1 955.1,3474.0 955.6,3473.9 956.7,3476.9 957.9,3479.9 959.1,3481.6 960.2,3482.8 961.4,3484.0 962.6,3484.9 963.7,3484.9 964.9,3484.2 966.1,3482.7 967.2,3482.2 968.4,3483.3 969.5,3483.8 970.7,3483.1 971.9,3481.4 973.0,3476.2 974.2,3465.9 975.4,3456.5 975.6,3455.5 976.5,3460.0 977.7,3470.8 978.9,3476.5 980.0,3477.0 981.2,3476.6 982.4,3475.5 983.5,3473.4 984.7,3471.2 985.4,3470.0 985.8,3470.7 987.0,3473.4 988.2,3475.5 989.3,3476.2 990.5,3477.7 991.7,3480.0 992.8,3481.4 994.0,3481.9 995.2,3482.0 996.3,3482.7 997.5,3483.1 998.6,3483.5 999.8,3483.8 1001.0,3482.5 1002.1,3480.4 1003.3,3478.3 1004.5,3475.4 1005.6,3473.1 1006.3,3473.4 1006.8,3474.0 1008.0,3474.3 1009.1,3475.1 1010.3,3476.4 1011.4,3476.2 1012.6,3471.4 1013.8,3459.0 1014.9,3441.2 1015.6,3435.8 1016.1,3437.6 1017.3,3455.0 1018.4,3470.8 1019.6,3478.3 1020.8,3480.7 1021.9,3481.6 1023.1,3481.7 1024.2,3481.7 1025.4,3481.6 1026.6,3480.3 1027.7,3477.6 1028.9,3475.0 1030.1,3473.3 1031.2,3470.5 1032.4,3467.0 1033.6,3464.0 1034.7,3461.2 1035.9,3459.6 1036.6,3459.9 1037.0,3459.7 1038.2,3459.9 1039.4,3462.5 1040.5,3465.5 1041.7,3467.4 1042.9,3469.4 1044.0,3470.0 1045.2,3466.5 1046.4,3459.5 1047.5,3452.0 1048.7,3448.9 1049.9,3454.3 1051.0,3463.4 1052.2,3470.8 1053.3,3476.1 1054.5,3479.0 1055.7,3479.3 1056.8,3480.1 1058.0,3482.4 1059.2,3483.5 1060.3,3483.5 1061.5,3483.6 1062.7,3483.6 1063.8,3483.3 1065.0,3484.1 1066.1,3484.3 1067.3,3483.4 1068.5,3483.7 1069.6,3483.8 1070.8,3483.0 1072.0,3482.7 1073.1,3482.0 1074.3,3481.2 1075.5,3480.0 1076.6,3477.7 1077.8,3475.9 1078.5,3475.8 1078.9,3475.2 1080.1,3476.3 1081.3,3478.7 1082.4,3480.4 1083.6,3481.5 1084.8,3482.4 1085.9,3483.9 1087.1,3484.6 1088.3,3483.7 1089.4,3483.2 1090.6,3484.0 1091.7,3484.9 1092.9,3484.8 1094.1,3484.2 1095.2,3484.4 1096.4,3484.9 1097.6,3484.5 1098.7,3484.3 1099.9,3484.7 1101.1,3485.0 1102.2,3484.6 1103.4,3484.1 1104.6,3484.2 1105.7,3484.1 1106.9,3483.7 1108.0,3484.0 1109.2,3484.2 1110.4,3484.3 1111.5,3485.3 1112.7,3485.4 1113.9,3484.5 1115.0,3483.9 1116.2,3483.5 1117.4,3483.6 1118.5,3483.6 1119.7,3483.5 1120.8,3484.4 1122.0,3484.7 1123.2,3484.0 1124.3,3483.7 1125.5,3483.5 1126.7,3483.4 1127.8,3482.9 1129.0,3482.2 1130.2,3481.5 1131.3,3479.8 1132.5,3477.5 1133.6,3475.4 1134.8,3473.5 1136.0,3472.0 1137.1,3470.8 1138.3,3469.8 1139.0,3469.3 1139.5,3468.7 1140.6,3469.1 1141.8,3470.1 1143.0,3471.6 1144.1,3473.9 1145.3,3476.6 1146.4,3478.0 1147.6,3478.2 1148.8,3480.0 1149.9,3482.1 1151.1,3481.3 1152.3,3480.5 1153.4,3481.0 1154.6,3481.0 1155.8,3480.9 1156.9,3480.9 1157.6,3480.9 1158.1,3480.8 1159.2,3480.8 1160.4,3481.0 1161.6,3481.2 1162.7,3481.3 1163.9,3482.0 1165.1,3482.6 1166.2,3481.7 1167.4,3481.3 1168.6,3481.1 1169.7,3480.3 1170.9,3480.0 1172.1,3479.8 1173.2,3479.4 1174.4,3478.7 1175.5,3477.6 1176.7,3476.9 1177.9,3477.2 1179.0,3476.4 1180.2,3474.6 1181.4,3473.3 1182.5,3472.5 1183.7,3473.3 1184.9,3474.0 1185.6,3473.1 1186.0,3472.4 1187.2,3472.9 1188.3,3473.4 1189.5,3474.1 1190.7,3475.4 1191.8,3476.1 1193.0,3475.5 1194.2,3475.9 1195.3,3477.1 1196.5,3476.8 1197.7,3476.8 1198.8,3477.2 1200.0,3476.9 1201.1,3476.9 1201.8,3476.8 1202.3,3476.6 1203.5,3476.7 1204.6,3476.9 1205.8,3477.7 1207.0,3479.0 1208.1,3480.2 1209.3,3481.1 1210.5,3481.2 1211.6,3481.0 1212.8,3480.5 1213.9,3479.3 1215.1,3478.3 1216.3,3476.3 1217.4,3473.0 1218.6,3469.5 1219.8,3462.7 1220.9,3450.5 1222.1,3436.0 1223.3,3419.7 1224.4,3404.7 1225.6,3397.3 1226.7,3398.9 1227.9,3406.1 1229.1,3412.6 1230.2,3412.1 1231.4,3401.9 1232.6,3384.9 1233.7,3371.2 1234.4,3369.7 1234.9,3371.9 1236.1,3388.3 1237.2,3413.1 1238.4,3437.2 1239.6,3454.7 1240.7,3464.7 1241.9,3470.5 1243.0,3474.7 1244.2,3477.4 1245.4,3478.3 1246.5,3478.7 1247.7,3479.8 1248.9,3479.2 1250.0,3477.2 1251.2,3475.5 1252.4,3471.7 1253.5,3465.2 1254.7,3458.3 1255.8,3452.5 1257.0,3450.6 1258.2,3454.9 1259.3,3461.4 1260.5,3467.7 1261.7,3473.8 1262.8,3478.0 1264.0,3480.1 1265.2,3481.1 1266.3,3481.4 1267.5,3481.2 1268.6,3480.9 1269.8,3481.2 1271.0,3482.5 1272.1,3482.5 1273.3,3480.0 1274.5,3476.5 1275.6,3471.5 1276.8,3465.3 1278.0,3457.8 1279.1,3450.6 1280.3,3447.9 1281.4,3451.0 1282.6,3457.4 1283.8,3465.1 1284.9,3472.1 1286.1,3476.2 1287.3,3478.3 1288.4,3480.5 1289.6,3481.8 1290.8,3482.3 1291.9,3482.4 1293.1,3481.4 1294.2,3480.9 1295.4,3482.2 1296.6,3483.9 1297.7,3483.6 1298.9,3481.8 1300.1,3480.0 1301.2,3477.0 1302.4,3472.0 1303.6,3465.5 1304.7,3458.1 1305.9,3452.2 1306.6,3450.8 1307.1,3451.3 1308.2,3456.9 1309.4,3465.3 1310.5,3471.2 1311.7,3474.7 1312.9,3477.4 1314.0,3479.8 1315.2,3482.3 1316.4,3483.4 1317.5,3482.9 1318.7,3482.5 1319.9,3482.7 1321.0,3482.8 1322.2,3482.7 1323.3,3482.8 1324.5,3482.4 1325.7,3482.7 1326.8,3483.3 1328.0,3482.4 1329.2,3481.1 1330.3,3480.2 1331.5,3479.7 1332.2,3479.8 1332.7,3479.7 1333.8,3480.0 1335.0,3480.5 1336.1,3481.0 1337.3,3481.0 1338.5,3481.4 1339.6,3482.9 1340.8,3484.0 1342.0,3484.6 1343.1,3485.1 1344.3,3484.5 1345.5,3483.5 1346.6,3483.4 1347.8,3483.5 1348.9,3483.1 1350.1,3482.7 1351.3,3483.1 1352.4,3483.2 1353.6,3483.1 1354.8,3484.4 1355.9,3485.2 1357.1,3485.2 1358.3,3485.0 1359.4,3484.2 1360.6,3483.1 1361.8,3483.3 1362.9,3484.1 1364.1,3482.8 1365.2,3481.8 1366.4,3482.4 1367.6,3481.4 1368.7,3480.4 1369.9,3480.5 1371.1,3479.6 1372.2,3478.3 1373.4,3477.2 1374.6,3475.8 1375.7,3474.6 1376.9,3472.8 1378.0,3470.2 1379.2,3468.1 1380.4,3466.8 1381.5,3466.5 1382.7,3467.0 1383.9,3467.6 1385.0,3468.5 1386.2,3469.2 1387.4,3470.0 1388.5,3471.2 1389.7,3473.3 1390.8,3475.5 1392.0,3476.4 1393.2,3477.2 1394.3,3479.0 1395.5,3480.2 1396.7,3480.4 1397.8,3481.2 1399.0,3482.5 1400.2,3482.6 1401.3,3482.6 1402.5,3483.2 1403.6,3483.1 1404.8,3483.0 1406.0,3483.2 1407.1,3483.1 1408.3,3483.2 1409.5,3483.8 1410.6,3483.6 1411.8,3482.2 1413.0,3480.8 1414.1,3480.4 1415.3,3480.9 1416.4,3480.9 1417.6,3480.8 1418.8,3480.7 1419.9,3480.2 1420.6,3480.1 1421.1,3480.4 1422.3,3481.0 1423.4,3481.4 1424.6,3480.9 1425.8,3480.1 1426.9,3480.3 1428.1,3481.0 1429.3,3482.2 1430.4,3482.6 1431.6,3482.1 1432.7,3482.2 1433.9,3482.7 1435.1,3482.1 1436.2,3480.5 1437.4,3479.1 1438.6,3477.9 1439.7,3477.2 1440.9,3477.2 1442.1,3476.2 1443.2,3473.0 1444.4,3469.4 1445.5,3466.5 1446.7,3462.4 1447.9,3458.1 1449.0,3454.3 1450.2,3448.9 1451.4,3444.3 1452.5,3442.3 1452.8,3442.3 1453.7,3440.1 1454.9,3438.7 1456.0,3438.7 1457.2,3440.2 1458.3,3441.3 1459.5,3440.8 1460.7,3441.3 1461.8,3443.8 1462.5,3445.5 1463.0,3446.0 1464.2,3448.9 1465.3,3452.8 1466.5,3456.6 1467.7,3460.7 1468.8,3464.6 1470.0,3468.5 1471.1,3472.2 1472.3,3474.5 1473.5,3476.4 1474.6,3478.2 1475.8,3479.6 1477.0,3480.6 1478.1,3481.1 1479.3,3481.1 1480.5,3481.6 1481.6,3482.6 1482.8,3482.5 1483.9,3482.4 1485.1,3483.2 1486.3,3483.4 1487.4,3482.4 1488.6,3481.5 1489.8,3481.1 1490.9,3481.3 1492.1,3480.9 1493.3,3478.8 1494.4,3477.5 1495.6,3477.6 1496.8,3476.7 1497.9,3474.8 1499.1,3473.8 1499.8,3474.2 1500.2,3474.4 1501.4,3474.6 1502.6,3475.3 1503.7,3476.1 1504.9,3477.5 1506.1,3479.3 1507.2,3480.7 1508.4,3481.6 1509.6,3482.3 1510.7,3483.6 1511.9,3484.3 1513.0,3483.7 1514.2,3483.4 1515.4,3483.6 1516.5,3483.2 1517.7,3483.0 1518.9,3482.6 1520.0,3482.6 1521.2,3483.6 1522.4,3483.4 1523.5,3482.2 1524.7,3482.9 1525.8,3483.7 1527.0,3483.0 1528.2,3482.4 1529.3,3482.0 1530.5,3481.6 1531.7,3481.3 1532.8,3480.2 1534.0,3479.7 1535.2,3479.9 1536.3,3478.8 1537.5,3476.1 1538.6,3474.3 1539.8,3473.1 1541.0,3470.8 1542.1,3468.5 1543.3,3466.6 1544.5,3466.0 1545.6,3465.9 1546.3,3465.5 1546.8,3466.3 1548.0,3467.7 1549.1,3468.8 1550.3,3470.0 1551.4,3471.3 1552.6,3473.0 1553.8,3474.8 1554.9,3476.8 1556.1,3478.1 1557.3,3478.4 1558.4,3478.9 1559.6,3479.8 1560.8,3481.3 1561.9,3482.3 1563.1,3481.9 1564.3,3481.5 1565.4,3481.8 1566.6,3481.8 1567.7,3481.1 1568.9,3481.2 1570.1,3481.7 1571.2,3481.2 1572.4,3480.5 1573.6,3480.0 1574.3,3479.9 1574.7,3480.5 1575.9,3480.5 1577.1,3480.6 1578.2,3481.3 1579.4,3481.3 1580.5,3481.5 1581.7,3482.6 1582.9,3483.6 1584.0,3484.4 1585.2,3484.8 1586.4,3484.4 1587.5,3483.5 1588.7,3482.9 1589.9,3483.6 1591.0,3483.6 1592.2,3482.6 1593.3,3481.9 1594.5,3482.0 1595.7,3481.7 1596.8,3480.8 1598.0,3480.2 1599.2,3480.1 1600.3,3480.0 1601.5,3479.7 1602.7,3479.5 1603.8,3479.4 1604.5,3478.8 1605.0,3477.8 1606.1,3478.1 1607.3,3479.0 1608.5,3478.9 1609.6,3478.9 1610.8,3480.0 1612.0,3480.9 1613.1,3481.4 1614.3,3481.6 1615.5,3481.9 1616.6,3482.5 1617.8,3482.4 1618.9,3481.1 1620.1,3479.0 1621.3,3476.9 1622.4,3475.1 1623.6,3473.3 1624.8,3471.0 1625.9,3469.6 1627.1,3468.7 1627.8,3467.8 1628.3,3467.9 1629.4,3470.0 1630.6,3472.3 1631.8,3474.0 1632.9,3476.7 1634.1,3479.8 1635.2,3481.2 1636.4,3481.7 1637.6,3482.3 1638.7,3482.4 1639.9,3482.6 1641.1,3484.1 1642.2,3485.3 1643.4,3485.8 1644.6,3485.6 1645.7,3484.4 1646.9,3483.9"/>
<polyline clip-path="url(#c_orange)" fill="none" stroke="#ff8000" stroke-width="6" stroke-linejoin="round" stroke-linecap="butt" points="245.7,2949.3 246.8,2948.9 248.0,2948.5 249.2,2948.8 250.3,2948.9 251.5,2948.6 252.6,2949.2 253.8,2949.3 255.0,2949.0 256.1,2949.1 257.3,2949.3 258.5,2949.0 259.6,2948.6 260.8,2948.6 262.0,2949.0 263.1,2948.6 264.3,2947.4 265.5,2947.3 266.6,2948.0 267.8,2948.1 268.9,2948.2 270.1,2948.4 271.3,2948.2 272.4,2947.7 273.6,2947.1 274.8,2947.0 275.5,2947.4 275.9,2947.6 277.1,2947.6 278.3,2947.4 279.4,2947.4 280.6,2947.7 281.7,2947.8 282.9,2947.8 284.1,2947.8 285.2,2947.8 286.4,2947.6 287.6,2947.6 288.7,2947.7 289.9,2947.8 291.1,2948.3 292.2,2948.7 293.4,2948.6 294.5,2948.5 295.7,2948.3 296.9,2948.1 298.0,2948.1 299.2,2948.7 300.4,2949.1 301.5,2949.0 302.7,2948.6 303.9,2949.1 305.0,2949.9 306.2,2950.0 307.3,2949.5 308.5,2949.1 309.7,2948.8 310.8,2948.5 312.0,2948.7 313.2,2949.4 314.3,2949.5 315.5,2949.3 316.7,2949.6 317.8,2949.8 319.0,2949.5 320.1,2949.2 321.3,2949.1 322.5,2949.9 323.6,2950.5 324.8,2950.2 326.0,2949.8 327.1,2948.9 328.3,2948.5 329.5,2949.5 330.6,2950.3 331.8,2950.1 333.0,2949.4 334.1,2949.4 335.3,2949.7 336.4,2949.1 337.6,2948.4 338.8,2948.5 339.9,2948.6 341.1,2948.4 342.3,2948.2 343.4,2948.4 344.6,2948.9 345.8,2949.1 346.9,2949.0 348.1,2948.5 349.2,2947.8 350.4,2947.6 351.6,2947.4 352.7,2946.9 353.9,2945.7 355.1,2943.7 356.2,2941.1 357.4,2933.6 358.6,2904.3 359.7,2824.2 360.9,2734.2 361.1,2730.9 362.0,2782.2 363.2,2879.2 364.4,2925.1 365.5,2937.9 366.7,2941.6 367.9,2943.1 369.0,2944.4 370.2,2945.0 371.4,2945.1 372.5,2944.9 373.7,2944.2 374.8,2943.9 376.0,2943.1 377.2,2939.2 378.3,2929.6 379.5,2911.3 380.7,2880.3 381.8,2839.5 383.0,2810.5 383.2,2809.1 384.2,2819.1 385.3,2847.7 386.5,2868.0 387.6,2876.7 388.1,2880.7 388.8,2890.6 390.0,2910.9 391.1,2927.5 392.3,2937.8 393.5,2942.9 394.6,2945.1 395.8,2946.0 397.0,2946.1 398.1,2945.9 399.3,2946.3 400.5,2947.0 401.6,2947.4 402.8,2947.3 403.9,2947.2 405.1,2947.5 406.3,2948.1 407.4,2949.2 408.6,2949.6 409.8,2949.1 410.9,2949.0 412.1,2949.4 413.3,2949.9 414.4,2949.7 415.6,2948.9 416.7,2949.1 417.9,2949.6 419.1,2949.4 420.2,2949.1 421.4,2948.7 422.6,2948.5 423.7,2949.3 424.9,2950.0 426.1,2949.9 427.2,2949.7 428.4,2949.4 429.5,2949.3 430.7,2949.5 431.9,2949.6 433.0,2949.6 434.2,2949.6 435.4,2949.5 436.5,2949.8 437.7,2949.9 438.9,2949.7 440.0,2949.4 441.2,2948.9 442.3,2948.8 443.5,2949.0 444.7,2949.1 445.8,2949.6 447.0,2949.6 448.2,2948.7 449.3,2947.4 450.5,2944.2 451.7,2936.7 452.8,2926.6 453.5,2923.9 454.0,2925.4 455.1,2934.7 456.3,2943.1 457.5,2947.4 458.6,2949.0 459.8,2949.2 461.0,2948.7 462.1,2948.3 463.3,2948.3 464.5,2948.4 465.6,2947.3 466.8,2944.5 468.0,2942.9 469.1,2944.6 470.3,2946.7 471.4,2948.0 472.6,2948.9 473.8,2949.6 474.9,2949.9 476.1,2949.8 477.3,2949.2 478.4,2948.5 479.6,2947.8 480.8,2946.4 481.9,2941.7 483.1,2933.3 484.2,2928.8 485.4,2934.7 486.6,2942.3 487.7,2946.4 488.9,2948.1 490.1,2948.8 491.2,2948.7 492.4,2948.1 493.6,2948.3 494.7,2948.2 495.9,2946.3 497.0,2941.0 498.2,2929.0 499.4,2915.5 499.8,2914.1 500.5,2918.1 501.7,2932.0 502.9,2942.1 504.0,2945.9 505.2,2947.3 506.4,2948.3 507.5,2948.8 508.7,2948.4 509.8,2948.0 511.0,2948.1 512.2,2948.5 513.3,2948.2 514.5,2947.3 515.7,2946.1 516.8,2942.7 518.0,2934.7 519.2,2922.7 520.3,2910.5 521.3,2906.4 521.5,2906.7 522.7,2915.4 523.8,2928.5 525.0,2938.2 526.1,2943.5 527.3,2945.8 528.5,2946.6 529.6,2946.6 530.8,2946.5 532.0,2946.1 533.1,2944.9 534.3,2941.5 535.5,2931.8 536.6,2916.5 537.5,2910.1 537.8,2910.5 538.9,2922.4 540.1,2935.8 541.3,2942.0 542.4,2942.2 543.6,2937.0 544.8,2925.3 545.9,2910.3 547.1,2902.4 548.3,2910.9 549.4,2925.9 550.6,2937.3 551.7,2943.8 552.9,2946.8 554.1,2947.5 555.2,2947.5 556.4,2947.9 557.6,2947.4 558.7,2945.2 559.9,2941.2 561.1,2937.8 561.3,2938.1 562.2,2940.5 563.4,2944.5 564.5,2947.1 565.7,2948.5 566.9,2948.7 568.0,2949.0 569.2,2949.7 570.4,2949.9 571.5,2949.3 572.7,2949.2 573.9,2949.4 575.0,2949.3 576.2,2948.2 577.3,2945.4 578.5,2939.8 579.7,2932.4 580.4,2930.4 580.8,2931.5 582.0,2938.4 583.2,2943.8 584.3,2945.8 585.5,2946.6 586.7,2946.1 587.8,2942.3 589.0,2934.7 590.2,2930.2 591.3,2936.1 592.5,2943.2 593.6,2946.2 594.8,2947.7 596.0,2948.5 597.1,2948.5 598.3,2948.4 599.5,2948.7 600.6,2948.8 601.8,2948.5 603.0,2949.1 604.1,2949.8 605.3,2949.7 606.4,2949.6 607.6,2949.5 608.8,2949.4 609.9,2949.8 611.1,2950.6 612.3,2949.9 613.4,2948.7 614.6,2948.6 615.8,2949.0 616.9,2948.6 618.1,2947.7 619.2,2946.7 620.4,2943.0 621.6,2932.9 622.7,2918.2 623.7,2911.8 623.9,2912.3 625.1,2924.8 626.2,2938.7 627.4,2945.2 628.6,2947.1 629.7,2948.1 630.9,2948.7 632.0,2949.0 633.2,2948.9 634.4,2949.0 635.5,2949.1 636.7,2948.5 637.9,2948.1 639.0,2948.1 640.2,2948.1 641.4,2947.2 642.5,2946.2 643.7,2946.1 644.8,2944.6 646.0,2938.2 647.2,2921.9 648.3,2896.8 649.3,2885.7 649.5,2886.4 650.7,2906.7 651.8,2929.7 653.0,2941.0 654.2,2944.1 655.3,2944.1 656.5,2942.4 657.7,2937.3 658.8,2923.4 660.0,2903.3 660.7,2897.9 661.1,2900.8 662.3,2919.5 663.5,2935.9 664.6,2943.5 665.8,2945.8 667.0,2946.9 668.1,2947.5 669.3,2947.3 670.5,2947.8 671.6,2948.4 672.8,2947.9 673.9,2947.3 675.1,2947.2 676.3,2947.0 677.4,2946.7 678.6,2946.5 679.8,2945.2 680.9,2941.7 682.1,2936.8 682.8,2934.7 683.3,2935.0 684.4,2940.1 685.6,2943.8 686.7,2945.5 687.9,2946.0 689.1,2944.2 690.2,2939.8 691.4,2933.0 692.6,2928.1 693.7,2932.4 694.9,2939.5 696.1,2942.9 697.2,2943.8 698.4,2943.8 699.5,2943.3 700.7,2942.8 701.9,2942.3 703.0,2941.0 704.2,2938.9 705.4,2936.5 706.5,2933.4 707.7,2928.6 708.9,2919.9 710.0,2897.6 711.2,2827.8 712.3,2658.0 713.5,2444.3 714.0,2407.9 714.7,2445.4 715.8,2575.6 717.0,2572.3 718.2,2500.8 718.4,2499.7 719.3,2569.9 720.5,2722.2 721.7,2823.0 722.8,2858.6 724.0,2865.0 724.7,2866.7 725.2,2869.1 726.3,2877.0 727.5,2881.0 728.6,2865.5 729.8,2808.1 731.0,2703.6 732.1,2619.7 732.4,2617.3 733.3,2664.5 734.5,2779.6 735.6,2866.3 736.8,2906.4 738.0,2918.7 739.1,2915.9 740.3,2899.1 741.4,2866.6 742.6,2827.0 743.5,2809.0 743.8,2808.3 744.9,2821.4 746.1,2835.0 747.3,2836.8 748.0,2840.8 748.4,2847.7 749.6,2877.7 750.8,2908.1 751.9,2927.4 753.1,2936.4 754.2,2940.4 755.4,2942.5 756.6,2943.4 757.7,2943.9 758.9,2944.3 760.1,2944.7 761.2,2944.9 762.4,2944.8 763.6,2944.5 764.7,2944.3 765.9,2943.3 767.0,2939.7 768.2,2933.0 769.4,2923.8 770.5,2913.7 771.7,2907.9 772.9,2909.9 774.0,2912.5 775.2,2908.0 776.4,2894.7 777.5,2883.8 777.8,2884.3 778.7,2892.7 779.9,2912.2 781.0,2928.9 782.2,2938.2 783.3,2942.1 784.5,2943.7 785.7,2944.6 786.8,2944.8 788.0,2943.8 789.2,2941.9 790.3,2939.2 791.5,2935.0 792.7,2929.3 793.8,2923.1 795.0,2917.8 795.7,2916.2 796.1,2916.5 797.3,2918.2 798.5,2918.7 799.6,2914.0 800.8,2902.5 802.0,2891.6 802.4,2891.0 803.1,2895.9 804.3,2913.2 805.5,2929.8 806.6,2939.7 807.8,2943.3 808.9,2944.4 810.1,2945.3 811.3,2944.3 812.4,2938.7 813.6,2928.9 814.8,2923.2 815.9,2930.2 817.1,2939.7 818.3,2945.0 819.4,2947.3 820.6,2948.1 821.7,2947.9 822.9,2947.7 824.1,2947.9 825.2,2947.9 826.4,2947.5 827.6,2946.3 828.7,2944.8 829.9,2942.7 831.1,2940.4 831.8,2940.0 832.2,2940.1 833.4,2940.5 834.5,2941.1 835.7,2940.0 836.9,2937.1 838.0,2934.4 838.7,2933.7 839.2,2934.1 840.4,2937.5 841.5,2941.2 842.7,2943.3 843.9,2945.1 845.0,2946.4 846.2,2946.9 847.4,2947.3 848.5,2947.2 849.7,2946.0 850.8,2944.9 852.0,2942.5 853.2,2936.1 854.3,2923.9 855.5,2905.7 856.7,2889.7 857.1,2887.7 857.8,2891.3 859.0,2909.2 860.2,2926.8 861.3,2937.3 862.5,2942.0 863.6,2943.4 864.8,2943.0 866.0,2941.0 867.1,2937.1 868.3,2929.0 869.5,2913.8 870.6,2890.6 871.8,2864.4 873.0,2848.5 873.2,2847.6 874.1,2853.8 875.3,2875.7 876.4,2897.6 877.6,2911.3 878.8,2916.0 879.9,2915.4 881.1,2915.5 882.3,2920.0 883.4,2926.9 884.6,2933.0 885.8,2938.0 886.9,2942.1 888.1,2944.5 889.2,2945.6 890.4,2946.4 891.6,2946.8 892.7,2946.8 893.9,2947.4 895.1,2948.1 896.2,2948.1 897.4,2948.1 898.6,2946.8 899.7,2942.5 900.9,2936.1 901.8,2933.6 902.0,2934.1 903.2,2939.2 904.4,2944.6 905.5,2947.4 906.7,2948.7 907.9,2949.3 909.0,2949.1 910.2,2948.7 911.4,2949.0 912.5,2948.9 913.7,2948.8 914.9,2950.0 916.0,2950.6 917.2,2950.2 918.3,2949.9 919.5,2949.8 920.7,2949.5 921.8,2949.3 923.0,2948.8 924.2,2947.8 924.9,2947.4 925.3,2947.1 926.5,2947.3 927.7,2947.7 928.8,2948.4 930.0,2949.0 931.1,2949.0 932.3,2948.9 933.5,2949.0 934.6,2947.5 935.8,2942.8 937.0,2936.6 937.9,2934.6 938.1,2935.2 939.3,2939.8 940.5,2944.6 941.6,2947.3 942.8,2948.9 943.9,2949.4 945.1,2949.4 946.3,2949.1 947.4,2948.7 948.6,2948.7 949.8,2949.3 950.9,2949.3 952.1,2948.0 953.3,2946.0 954.4,2943.7 955.1,2942.9 955.6,2943.0 956.7,2945.3 957.9,2947.6 959.1,2948.6 960.2,2949.1 961.4,2949.4 962.6,2949.1 963.7,2948.8 964.9,2949.0 966.1,2949.5 967.2,2949.5 968.4,2949.2 969.5,2949.3 970.7,2948.7 971.9,2947.2 973.0,2943.4 974.2,2936.3 975.4,2929.8 975.6,2928.9 976.5,2931.5 977.7,2938.5 978.9,2942.7 980.0,2943.7 981.2,2943.6 982.4,2942.9 983.5,2941.0 984.7,2939.4 985.4,2939.4 985.8,2939.9 987.0,2941.1 988.2,2942.5 989.3,2943.8 990.5,2945.0 991.7,2946.2 992.8,2947.5 994.0,2948.1 995.2,2947.9 996.3,2948.9 997.5,2949.4 998.6,2948.0 999.8,2947.1 1001.0,2946.5 1002.1,2945.2 1003.3,2943.7 1004.5,2942.1 1005.6,2940.7 1006.3,2940.6 1006.8,2940.8 1008.0,2941.6 1009.1,2942.6 1010.3,2943.7 1011.4,2943.9 1012.6,2940.8 1013.8,2931.1 1014.9,2916.5 1015.6,2911.8 1016.1,2913.2 1017.3,2926.8 1018.4,2939.5 1019.6,2945.8 1020.8,2948.1 1021.9,2948.7 1023.1,2948.2 1024.2,2947.7 1025.4,2947.7 1026.6,2947.3 1027.7,2946.2 1028.9,2945.0 1030.1,2944.0 1031.2,2942.8 1032.4,2941.1 1033.6,2939.3 1034.7,2937.8 1035.9,2936.9 1036.6,2937.2 1037.0,2937.7 1038.2,2937.9 1039.4,2938.6 1040.5,2939.9 1041.7,2940.9 1042.9,2940.9 1044.0,2939.1 1045.2,2935.3 1046.4,2929.4 1047.5,2922.7 1048.7,2919.8 1049.9,2923.5 1051.0,2930.7 1052.2,2937.8 1053.3,2943.0 1054.5,2946.2 1055.7,2947.8 1056.8,2948.2 1058.0,2948.5 1059.2,2948.7 1060.3,2948.4 1061.5,2948.9 1062.7,2949.6 1063.8,2949.5 1065.0,2949.3 1066.1,2949.4 1067.3,2949.6 1068.5,2949.7 1069.6,2949.9 1070.8,2949.6 1072.0,2949.2 1073.1,2949.0 1074.3,2948.3 1075.5,2947.7 1076.6,2948.0 1077.8,2948.0 1078.5,2946.9 1078.9,2946.6 1080.1,2947.7 1081.3,2948.2 1082.4,2948.7 1083.6,2949.6 1084.8,2949.5 1085.9,2949.0 1087.1,2949.1 1088.3,2949.2 1089.4,2949.2 1090.6,2949.9 1091.7,2950.1 1092.9,2949.6 1094.1,2949.6 1095.2,2949.5 1096.4,2949.1 1097.6,2949.2 1098.7,2949.6 1099.9,2949.7 1101.1,2949.0 1102.2,2948.7 1103.4,2949.6 1104.6,2950.1 1105.7,2949.8 1106.9,2949.8 1108.0,2949.6 1109.2,2949.4 1110.4,2949.3 1111.5,2949.3 1112.7,2949.1 1113.9,2949.1 1115.0,2949.6 1116.2,2949.5 1117.4,2949.5 1118.5,2950.0 1119.7,2950.0 1120.8,2949.7 1122.0,2949.3 1123.2,2948.8 1124.3,2948.2 1125.5,2947.8 1126.7,2948.3 1127.8,2948.1 1129.0,2947.2 1130.2,2946.6 1131.3,2946.4 1132.5,2946.5 1133.6,2945.0 1134.8,2942.3 1136.0,2940.8 1137.1,2940.4 1138.3,2940.3 1139.0,2940.0 1139.5,2939.6 1140.6,2939.9 1141.8,2941.0 1143.0,2942.3 1144.1,2943.1 1145.3,2943.2 1146.4,2943.8 1147.6,2945.0 1148.8,2946.3 1149.9,2947.3 1151.1,2948.1 1152.3,2948.1 1153.4,2946.9 1154.6,2946.1 1155.8,2947.1 1156.9,2947.9 1157.6,2947.4 1158.1,2947.1 1159.2,2946.8 1160.4,2946.1 1161.6,2945.9 1162.7,2946.4 1163.9,2947.1 1165.1,2947.4 1166.2,2947.3 1167.4,2947.0 1168.6,2946.9 1169.7,2946.5 1170.9,2946.2 1172.1,2946.4 1173.2,2946.3 1174.4,2945.9 1175.5,2945.9 1176.7,2945.6 1177.9,2944.2 1179.0,2942.8 1180.2,2942.6 1181.4,2942.5 1182.5,2941.4 1183.7,2940.6 1184.9,2941.3 1185.6,2942.1 1186.0,2942.1 1187.2,2941.5 1188.3,2941.1 1189.5,2941.9 1190.7,2942.8 1191.8,2943.6 1193.0,2943.8 1194.2,2943.4 1195.3,2943.6 1196.5,2944.4 1197.7,2945.0 1198.8,2944.9 1200.0,2944.6 1201.1,2944.4 1201.8,2944.8 1202.3,2945.4 1203.5,2945.7 1204.6,2945.9 1205.8,2946.5 1207.0,2946.7 1208.1,2946.1 1209.3,2945.7 1210.5,2946.1 1211.6,2946.2 1212.8,2946.5 1213.9,2946.6 1215.1,2946.0 1216.3,2944.9 1217.4,2942.8 1218.6,2940.5 1219.8,2936.8 1220.9,2929.5 1222.1,2919.8 1223.3,2909.8 1224.4,2901.4 1225.6,2896.8 1226.7,2897.7 1227.9,2902.1 1229.1,2905.5 1230.2,2904.6 1231.4,2897.4 1232.6,2886.4 1233.7,2877.8 1234.4,2876.2 1234.9,2877.2 1236.1,2888.4 1237.2,2904.5 1238.4,2919.2 1239.6,2930.1 1240.7,2937.2 1241.9,2941.6 1243.0,2944.5 1244.2,2946.4 1245.4,2947.3 1246.5,2947.5 1247.7,2947.6 1248.9,2947.6 1250.0,2947.4 1251.2,2946.7 1252.4,2945.5 1253.5,2943.8 1254.7,2941.7 1255.8,2940.1 1257.0,2939.8 1258.2,2941.0 1259.3,2942.7 1260.5,2944.2 1261.7,2945.4 1262.8,2946.4 1264.0,2947.5 1265.2,2948.0 1266.3,2948.1 1267.5,2948.5 1268.6,2948.7 1269.8,2948.3 1271.0,2948.4 1272.1,2948.5 1273.3,2947.5 1274.5,2945.9 1275.6,2943.4 1276.8,2939.9 1278.0,2935.7 1279.1,2931.8 1280.3,2929.9 1281.4,2931.2 1282.6,2935.1 1283.8,2939.4 1284.9,2943.0 1286.1,2945.9 1287.3,2947.1 1288.4,2947.3 1289.6,2947.6 1290.8,2948.2 1291.9,2948.6 1293.1,2948.6 1294.2,2948.5 1295.4,2948.3 1296.6,2948.1 1297.7,2948.2 1298.9,2948.2 1300.1,2947.8 1301.2,2946.4 1302.4,2943.5 1303.6,2939.8 1304.7,2936.3 1305.9,2933.5 1306.6,2933.2 1307.1,2933.6 1308.2,2936.0 1309.4,2939.5 1310.5,2942.5 1311.7,2945.0 1312.9,2946.8 1314.0,2948.0 1315.2,2948.9 1316.4,2949.2 1317.5,2948.9 1318.7,2948.9 1319.9,2949.3 1321.0,2948.3 1322.2,2947.1 1323.3,2947.7 1324.5,2948.2 1325.7,2947.9 1326.8,2947.7 1328.0,2947.4 1329.2,2947.3 1330.3,2947.2 1331.5,2946.6 1332.2,2946.4 1332.7,2946.4 1333.8,2946.5 1335.0,2946.7 1336.1,2946.6 1337.3,2946.3 1338.5,2946.7 1339.6,2947.6 1340.8,2948.6 1342.0,2949.4 1343.1,2949.2 1344.3,2948.8 1345.5,2949.1 1346.6,2949.5 1347.8,2949.9 1348.9,2950.0 1350.1,2949.6 1351.3,2949.0 1352.4,2948.8 1353.6,2948.9 1354.8,2949.2 1355.9,2949.2 1357.1,2949.1 1358.3,2949.0 1359.4,2948.9 1360.6,2948.8 1361.8,2949.0 1362.9,2948.7 1364.1,2948.1 1365.2,2948.3 1366.4,2949.0 1367.6,2948.4 1368.7,2947.5 1369.9,2947.4 1371.1,2947.9 1372.2,2947.4 1373.4,2945.9 1374.6,2944.9 1375.7,2943.9 1376.9,2942.2 1378.0,2940.9 1379.2,2940.2 1380.4,2939.8 1381.5,2939.9 1382.7,2940.2 1383.9,2940.3 1385.0,2939.9 1386.2,2940.1 1387.4,2941.5 1388.5,2943.0 1389.7,2943.6 1390.8,2944.4 1392.0,2945.7 1393.2,2946.2 1394.3,2946.7 1395.5,2947.7 1396.7,2948.0 1397.8,2947.7 1399.0,2947.7 1400.2,2947.9 1401.3,2948.6 1402.5,2949.3 1403.6,2949.3 1404.8,2949.4 1406.0,2949.2 1407.1,2948.6 1408.3,2948.3 1409.5,2948.3 1410.6,2948.4 1411.8,2949.0 1413.0,2949.1 1414.1,2949.1 1415.3,2949.6 1416.4,2949.4 1417.6,2948.6 1418.8,2948.0 1419.9,2947.8 1420.6,2947.9 1421.1,2948.3 1422.3,2948.6 1423.4,2948.0 1424.6,2947.4 1425.8,2947.9 1426.9,2948.5 1428.1,2948.5 1429.3,2948.1 1430.4,2948.1 1431.6,2948.4 1432.7,2948.3 1433.9,2948.2 1435.1,2948.3 1436.2,2948.3 1437.4,2948.0 1438.6,2947.4 1439.7,2947.0 1440.9,2946.6 1442.1,2945.2 1443.2,2943.5 1444.4,2942.6 1445.5,2941.3 1446.7,2938.8 1447.9,2936.6 1449.0,2934.5 1450.2,2932.3 1451.4,2930.9 1452.5,2929.8 1452.8,2929.4 1453.7,2928.3 1454.9,2927.8 1456.0,2927.4 1457.2,2927.0 1458.3,2927.3 1459.5,2927.4 1460.7,2927.6 1461.8,2928.9 1462.5,2930.1 1463.0,2930.6 1464.2,2931.7 1465.3,2933.0 1466.5,2935.2 1467.7,2938.0 1468.8,2940.1 1470.0,2941.3 1471.1,2942.6 1472.3,2944.2 1473.5,2945.1 1474.6,2946.1 1475.8,2947.2 1477.0,2947.9 1478.1,2948.4 1479.3,2948.4 1480.5,2948.4 1481.6,2949.0 1482.8,2949.2 1483.9,2949.2 1485.1,2949.4 1486.3,2949.6 1487.4,2949.5 1488.6,2948.8 1489.8,2948.8 1490.9,2948.9 1492.1,2948.6 1493.3,2949.0 1494.4,2949.6 1495.6,2949.0 1496.8,2948.4 1497.9,2948.5 1499.1,2947.9 1499.8,2947.2 1500.2,2947.1 1501.4,2947.3 1502.6,2947.5 1503.7,2947.9 1504.9,2948.3 1506.1,2948.8 1507.2,2949.1 1508.4,2949.1 1509.6,2948.8 1510.7,2948.5 1511.9,2949.0 1513.0,2949.5 1514.2,2949.4 1515.4,2949.8 1516.5,2950.2 1517.7,2950.0 1518.9,2950.4 1520.0,2950.7 1521.2,2950.2 1522.4,2950.0 1523.5,2949.6 1524.7,2949.1 1525.8,2949.6 1527.0,2950.0 1528.2,2949.3 1529.3,2948.7 1530.5,2948.7 1531.7,2948.4 1532.8,2948.6 1534.0,2949.2 1535.2,2949.2 1536.3,2949.2 1537.5,2948.7 1538.6,2948.3 1539.8,2948.6 1541.0,2948.9 1542.1,2948.4 1543.3,2947.8 1544.5,2947.5 1545.6,2947.3 1546.3,2947.4 1546.8,2947.8 1548.0,2948.3 1549.1,2947.8 1550.3,2947.5 1551.4,2948.4 1552.6,2949.3 1553.8,2949.1 1554.9,2948.6 1556.1,2948.7 1557.3,2948.8 1558.4,2948.9 1559.6,2949.3 1560.8,2949.0 1561.9,2948.3 1563.1,2948.2 1564.3,2948.9 1565.4,2949.0 1566.6,2948.5 1567.7,2948.4 1568.9,2948.5 1570.1,2948.5 1571.2,2948.4 1572.4,2948.0 1573.6,2948.0 1574.3,2948.4 1574.7,2948.5 1575.9,2948.2 1577.1,2948.4 1578.2,2949.0 1579.4,2948.8 1580.5,2948.5 1581.7,2948.3 1582.9,2948.7 1584.0,2949.2 1585.2,2949.0 1586.4,2949.2 1587.5,2949.7 1588.7,2949.8 1589.9,2949.2 1591.0,2949.2 1592.2,2949.5 1593.3,2949.6 1594.5,2949.7 1595.7,2949.9 1596.8,2949.6 1598.0,2948.9 1599.2,2948.5 1600.3,2948.3 1601.5,2948.2 1602.7,2947.9 1603.8,2948.0 1604.5,2948.3 1605.0,2948.2 1606.1,2948.4 1607.3,2948.5 1608.5,2948.4 1609.6,2948.5 1610.8,2948.8 1612.0,2948.8 1613.1,2948.3 1614.3,2948.1 1615.5,2948.3 1616.6,2948.4 1617.8,2948.7 1618.9,2948.9 1620.1,2947.9 1621.3,2946.7 1622.4,2945.4 1623.6,2943.1 1624.8,2941.4 1625.9,2940.8 1627.1,2940.3 1627.8,2940.2 1628.3,2939.8 1629.4,2939.8 1630.6,2941.2 1631.8,2943.1 1632.9,2944.3 1634.1,2945.6 1635.2,2947.0 1636.4,2947.8 1637.6,2947.9 1638.7,2947.7 1639.9,2948.0 1641.1,2948.8 1642.2,2949.6 1643.4,2949.6 1644.6,2949.2 1645.7,2949.4 1646.9,2949.9"/>
<polyline clip-path="url(#c_green)" fill="none" stroke="#00a000" stroke-width="6" stroke-linejoin="round" stroke-linecap="butt" points="245.7,2421.7 246.8,2421.8 248.0,2422.0 249.2,2421.8 250.3,2422.2 251.5,2422.8 252.6,2422.3 253.8,2421.5 255.0,2421.7 256.1,2422.1 257.3,2421.7 258.5,2421.5 259.6,2421.4 260.8,2421.7 262.0,2422.0 263.1,2421.9 264.3,2421.4 265.5,2420.8 266.6,2420.8 267.8,2421.6 268.9,2422.0 270.1,2421.7 271.3,2421.7 272.4,2421.5 273.6,2420.6 274.8,2420.3 275.5,2420.8 275.9,2421.2 277.1,2421.3 278.3,2421.9 279.4,2422.0 280.6,2421.4 281.7,2421.9 282.9,2423.0 284.1,2422.5 285.2,2420.9 286.4,2420.1 287.6,2420.6 288.7,2421.3 289.9,2421.5 291.1,2421.8 292.2,2422.0 293.4,2422.2 294.5,2422.0 295.7,2421.5 296.9,2421.3 298.0,2421.3 299.2,2421.2 300.4,2421.2 301.5,2421.1 302.7,2421.5 303.9,2422.4 305.0,2422.1 306.2,2421.8 307.3,2422.0 308.5,2422.1 309.7,2422.2 310.8,2421.6 312.0,2421.1 313.2,2420.7 314.3,2420.2 315.5,2420.8 316.7,2421.6 317.8,2421.8 319.0,2421.8 320.1,2421.6 321.3,2421.3 322.5,2421.4 323.6,2421.0 324.8,2420.1 326.0,2420.3 327.1,2420.6 328.3,2420.6 329.5,2420.8 330.6,2420.9 331.8,2421.2 333.0,2421.5 334.1,2420.9 335.3,2420.6 336.4,2421.2 337.6,2421.7 338.8,2421.9 339.9,2422.2 341.1,2421.7 342.3,2420.6 343.4,2419.7 344.6,2420.2 345.8,2420.5 346.9,2419.5 348.1,2419.0 349.2,2418.6 350.4,2417.8 351.6,2417.0 352.7,2415.7 353.9,2413.5 355.1,2410.8 356.2,2406.2 357.4,2392.9 358.6,2341.1 359.7,2197.3 360.9,2035.4 361.1,2028.4 362.0,2120.0 363.2,2294.9 364.4,2377.9 365.5,2400.9 366.7,2408.1 367.9,2411.2 369.0,2412.8 370.2,2413.1 371.4,2412.7 372.5,2413.1 373.7,2413.5 374.8,2412.2 376.0,2409.1 377.2,2402.2 378.3,2388.1 379.5,2358.6 380.7,2306.0 381.8,2238.6 383.0,2191.1 383.2,2188.2 384.2,2204.4 385.3,2251.1 386.5,2284.0 387.6,2298.7 388.1,2305.3 388.8,2320.9 390.0,2356.0 391.1,2385.2 392.3,2401.5 393.5,2409.8 394.6,2414.2 395.8,2415.7 397.0,2416.1 398.1,2416.9 399.3,2417.6 400.5,2418.2 401.6,2419.4 402.8,2420.3 403.9,2420.6 405.1,2420.7 406.3,2420.7 407.4,2420.8 408.6,2420.7 409.8,2420.8 410.9,2420.6 412.1,2420.1 413.3,2419.6 414.4,2419.7 415.6,2420.5 416.7,2421.0 417.9,2421.0 419.1,2420.4 420.2,2420.3 421.4,2420.9 422.6,2421.1 423.7,2421.3 424.9,2421.4 426.1,2421.4 427.2,2421.3 428.4,2421.4 429.5,2422.1 430.7,2422.2 431.9,2421.9 433.0,2421.9 434.2,2421.9 435.4,2422.1 436.5,2422.2 437.7,2422.2 438.9,2421.8 440.0,2420.7 441.2,2420.0 442.3,2420.0 443.5,2420.3 444.7,2420.4 445.8,2420.3 447.0,2420.9 448.2,2421.7 449.3,2421.4 450.5,2419.5 451.7,2416.3 452.8,2413.0 453.5,2412.3 454.0,2412.7 455.1,2416.3 456.3,2419.9 457.5,2421.1 458.6,2421.2 459.8,2422.1 461.0,2422.2 462.1,2421.1 463.3,2420.7 464.5,2421.0 465.6,2420.8 466.8,2419.7 468.0,2418.9 469.1,2419.3 470.3,2420.8 471.4,2421.7 472.6,2421.6 473.8,2420.9 474.9,2420.0 476.1,2420.0 477.3,2420.9 478.4,2421.7 479.6,2420.3 480.8,2417.1 481.9,2411.5 483.1,2401.1 484.2,2394.1 485.4,2401.6 486.6,2412.2 487.7,2418.0 488.9,2419.9 490.1,2419.5 491.2,2419.7 492.4,2420.3 493.6,2419.6 494.7,2418.6 495.9,2416.3 497.0,2409.2 498.2,2393.6 499.4,2375.5 499.8,2372.5 500.5,2376.3 501.7,2395.1 502.9,2410.7 504.0,2417.2 505.2,2418.5 506.4,2418.7 507.5,2418.3 508.7,2417.8 509.8,2418.4 511.0,2419.4 512.2,2419.8 513.3,2419.1 514.5,2417.8 515.7,2415.0 516.8,2408.3 518.0,2396.0 519.2,2377.5 520.3,2357.4 521.3,2349.7 521.5,2350.4 522.7,2365.3 523.8,2386.1 525.0,2402.5 526.1,2412.1 527.3,2416.1 528.5,2417.0 529.6,2417.1 530.8,2417.9 532.0,2418.7 533.1,2417.7 534.3,2413.8 535.5,2404.5 536.6,2389.6 537.5,2382.7 537.8,2383.3 538.9,2395.3 540.1,2407.8 541.3,2413.0 542.4,2412.3 543.6,2405.7 544.8,2391.9 545.9,2374.0 547.1,2364.2 548.3,2374.0 549.4,2392.1 550.6,2406.9 551.7,2415.3 552.9,2417.8 554.1,2418.4 555.2,2419.3 556.4,2419.6 557.6,2419.1 558.7,2417.8 559.9,2414.0 561.1,2410.2 561.3,2410.3 562.2,2413.1 563.4,2417.2 564.5,2419.1 565.7,2420.5 566.9,2420.4 568.0,2419.9 569.2,2421.2 570.4,2421.6 571.5,2420.0 572.7,2419.8 573.9,2419.9 575.0,2419.5 576.2,2419.7 577.3,2419.2 578.5,2417.7 579.7,2415.4 580.4,2414.2 580.8,2414.1 582.0,2416.0 583.2,2418.3 584.3,2419.7 585.5,2418.9 586.7,2415.7 587.8,2409.0 589.0,2396.9 590.2,2388.3 591.3,2396.2 592.5,2409.1 593.6,2417.0 594.8,2419.6 596.0,2419.7 597.1,2420.2 598.3,2421.3 599.5,2421.6 600.6,2421.1 601.8,2421.0 603.0,2420.9 604.1,2420.2 605.3,2420.4 606.4,2420.4 607.6,2419.9 608.8,2420.2 609.9,2420.8 611.1,2421.0 612.3,2421.3 613.4,2421.6 614.6,2421.4 615.8,2421.2 616.9,2421.0 618.1,2420.1 619.2,2419.7 620.4,2417.9 621.6,2411.3 622.7,2401.4 623.7,2397.1 623.9,2397.6 625.1,2405.5 626.2,2413.4 627.4,2417.8 628.6,2420.3 629.7,2421.1 630.9,2420.6 632.0,2420.4 633.2,2420.6 634.4,2420.4 635.5,2419.9 636.7,2420.2 637.9,2420.8 639.0,2421.0 640.2,2420.7 641.4,2420.4 642.5,2420.3 643.7,2419.3 644.8,2417.6 646.0,2413.5 647.2,2402.0 648.3,2383.5 649.3,2375.6 649.5,2376.9 650.7,2391.2 651.8,2406.4 653.0,2414.7 654.2,2417.6 655.3,2417.0 656.5,2414.7 657.7,2408.9 658.8,2393.0 660.0,2370.1 660.7,2363.6 661.1,2366.8 662.3,2387.7 663.5,2405.9 664.6,2414.7 665.8,2417.8 667.0,2418.7 668.1,2419.0 669.3,2419.2 670.5,2419.4 671.6,2420.3 672.8,2420.7 673.9,2420.2 675.1,2420.4 676.3,2421.0 677.4,2420.3 678.6,2419.4 679.8,2419.2 680.9,2418.0 682.1,2415.0 682.8,2413.7 683.3,2414.2 684.4,2416.7 685.6,2417.7 686.7,2417.5 687.9,2417.1 689.1,2415.3 690.2,2409.3 691.4,2398.5 692.6,2391.7 693.7,2398.6 694.9,2408.3 696.1,2413.1 697.2,2414.6 698.4,2415.2 699.5,2415.6 700.7,2414.9 701.9,2413.5 703.0,2411.8 704.2,2410.4 705.4,2409.0 706.5,2405.8 707.7,2400.0 708.9,2390.2 710.0,2368.1 711.2,2299.0 712.3,2129.9 713.5,1917.1 714.0,1880.1 714.7,1915.0 715.8,2038.4 717.0,2023.8 718.2,1942.3 718.4,1941.6 719.3,2018.7 720.5,2183.3 721.7,2292.7 722.8,2334.1 724.0,2344.3 724.7,2346.9 725.2,2348.0 726.3,2354.4 727.5,2358.7 728.6,2345.3 729.8,2293.5 731.0,2200.5 732.1,2125.9 732.4,2123.5 733.3,2165.4 734.5,2267.6 735.6,2344.4 736.8,2379.5 738.0,2389.4 739.1,2384.7 740.3,2362.8 741.4,2320.3 742.6,2268.8 743.5,2245.6 743.8,2245.2 744.9,2266.2 746.1,2289.6 747.3,2297.1 748.0,2303.3 748.4,2311.8 749.6,2344.6 750.8,2376.2 751.9,2396.0 753.1,2406.1 754.2,2410.8 755.4,2413.4 756.6,2414.9 757.7,2415.7 758.9,2415.8 760.1,2415.2 761.2,2415.3 762.4,2416.0 763.6,2416.5 764.7,2416.3 765.9,2414.9 767.0,2412.5 768.2,2408.5 769.4,2401.3 770.5,2392.7 771.7,2388.0 772.9,2389.9 774.0,2392.7 775.2,2390.3 776.4,2380.6 777.5,2371.7 777.8,2371.7 778.7,2379.1 779.9,2394.6 781.0,2406.5 782.2,2412.6 783.3,2415.6 784.5,2416.9 785.7,2416.3 786.8,2415.8 788.0,2415.5 789.2,2413.7 790.3,2409.6 791.5,2403.6 792.7,2396.6 793.8,2389.9 795.0,2384.2 795.7,2382.1 796.1,2381.9 797.3,2384.6 798.5,2386.3 799.6,2382.5 800.8,2371.4 802.0,2359.9 802.4,2358.1 803.1,2362.7 804.3,2381.7 805.5,2399.9 806.6,2410.7 807.8,2415.4 808.9,2417.1 810.1,2417.5 811.3,2416.3 812.4,2412.0 813.6,2404.6 814.8,2400.3 815.9,2405.5 817.1,2413.0 818.3,2416.5 819.4,2417.7 820.6,2419.4 821.7,2420.1 822.9,2419.4 824.1,2419.4 825.2,2419.4 826.4,2418.4 827.6,2416.7 828.7,2414.1 829.9,2411.4 831.1,2409.6 831.8,2409.6 832.2,2409.9 833.4,2410.7 834.5,2411.7 835.7,2412.2 836.9,2410.4 838.0,2408.0 838.7,2407.5 839.2,2407.7 840.4,2410.0 841.5,2413.3 842.7,2416.6 843.9,2418.1 845.0,2417.8 846.2,2418.2 847.4,2418.7 848.5,2418.2 849.7,2417.0 850.8,2415.9 852.0,2413.7 853.2,2407.1 854.3,2392.4 855.5,2369.6 856.7,2349.4 857.1,2347.0 857.8,2352.3 859.0,2374.1 860.2,2395.0 861.3,2407.5 862.5,2412.0 863.6,2413.6 864.8,2414.3 866.0,2412.9 867.1,2409.4 868.3,2402.0 869.5,2388.0 870.6,2367.2 871.8,2343.5 873.0,2328.3 873.2,2327.1 874.1,2332.6 875.3,2352.1 876.4,2371.5 877.6,2382.2 878.8,2384.6 879.9,2382.2 881.1,2380.8 882.3,2384.9 883.4,2393.5 884.6,2402.2 885.8,2408.1 886.9,2412.1 888.1,2415.9 889.2,2418.7 890.4,2419.9 891.6,2419.8 892.7,2419.3 893.9,2419.7 895.1,2420.2 896.2,2419.6 897.4,2419.1 898.6,2418.5 899.7,2415.8 900.9,2410.5 901.8,2408.4 902.0,2409.6 903.2,2413.3 904.4,2416.5 905.5,2418.8 906.7,2420.5 907.9,2421.6 909.0,2421.8 910.2,2421.0 911.4,2420.5 912.5,2421.2 913.7,2421.6 914.9,2420.4 916.0,2419.8 917.2,2420.6 918.3,2421.7 919.5,2421.8 920.7,2421.3 921.8,2420.1 923.0,2418.8 924.2,2418.3 924.9,2418.2 925.3,2418.0 926.5,2419.5 927.7,2421.1 928.8,2421.7 930.0,2421.3 931.1,2420.9 932.3,2420.4 933.5,2419.5 934.6,2417.8 935.8,2412.5 937.0,2404.0 937.9,2400.4 938.1,2401.0 939.3,2408.5 940.5,2415.9 941.6,2419.0 942.8,2419.9 943.9,2420.7 945.1,2421.6 946.3,2421.7 947.4,2421.4 948.6,2421.3 949.8,2421.0 950.9,2420.6 952.1,2420.7 953.3,2419.9 954.4,2418.1 955.1,2417.6 955.6,2417.6 956.7,2418.4 957.9,2419.9 959.1,2421.3 960.2,2421.4 961.4,2421.0 962.6,2421.1 963.7,2421.2 964.9,2420.7 966.1,2419.9 967.2,2420.4 968.4,2421.3 969.5,2420.9 970.7,2420.4 971.9,2418.3 973.0,2412.6 974.2,2402.4 975.4,2392.6 975.6,2391.8 976.5,2396.5 977.7,2407.5 978.9,2413.7 980.0,2415.0 981.2,2414.1 982.4,2412.7 983.5,2411.0 984.7,2409.7 985.4,2409.7 985.8,2410.3 987.0,2411.3 988.2,2412.9 989.3,2414.4 990.5,2415.9 991.7,2418.2 992.8,2419.6 994.0,2419.8 995.2,2419.8 996.3,2419.4 997.5,2419.1 998.6,2419.2 999.8,2419.0 1001.0,2418.1 1002.1,2416.2 1003.3,2413.2 1004.5,2409.9 1005.6,2407.3 1006.3,2406.1 1006.8,2406.4 1008.0,2409.7 1009.1,2412.7 1010.3,2414.2 1011.4,2415.6 1012.6,2413.7 1013.8,2403.2 1014.9,2387.7 1015.6,2383.1 1016.1,2384.7 1017.3,2398.2 1018.4,2409.9 1019.6,2416.0 1020.8,2418.9 1021.9,2419.9 1023.1,2419.9 1024.2,2419.7 1025.4,2419.3 1026.6,2418.2 1027.7,2417.2 1028.9,2416.6 1030.1,2415.7 1031.2,2414.6 1032.4,2412.9 1033.6,2410.4 1034.7,2408.9 1035.9,2407.8 1036.6,2407.6 1037.0,2408.3 1038.2,2408.6 1039.4,2409.4 1040.5,2411.3 1041.7,2412.4 1042.9,2412.3 1044.0,2411.3 1045.2,2408.6 1046.4,2403.8 1047.5,2398.6 1048.7,2396.4 1049.9,2399.9 1051.0,2406.5 1052.2,2412.3 1053.3,2415.9 1054.5,2417.8 1055.7,2419.0 1056.8,2419.8 1058.0,2420.2 1059.2,2420.5 1060.3,2420.9 1061.5,2421.2 1062.7,2421.4 1063.8,2421.8 1065.0,2421.3 1066.1,2420.3 1067.3,2420.6 1068.5,2421.7 1069.6,2421.6 1070.8,2421.2 1072.0,2420.9 1073.1,2420.2 1074.3,2419.3 1075.5,2419.2 1076.6,2419.2 1077.8,2417.9 1078.5,2416.9 1078.9,2417.1 1080.1,2418.4 1081.3,2419.8 1082.4,2420.6 1083.6,2420.6 1084.8,2421.3 1085.9,2422.2 1087.1,2422.1 1088.3,2422.0 1089.4,2422.2 1090.6,2422.1 1091.7,2421.9 1092.9,2422.3 1094.1,2422.3 1095.2,2421.4 1096.4,2421.2 1097.6,2421.6 1098.7,2421.9 1099.9,2421.9 1101.1,2422.0 1102.2,2421.9 1103.4,2421.5 1104.6,2421.5 1105.7,2422.1 1106.9,2421.9 1108.0,2421.6 1109.2,2422.1 1110.4,2422.0 1111.5,2421.6 1112.7,2421.5 1113.9,2422.0 1115.0,2422.3 1116.2,2422.3 1117.4,2422.6 1118.5,2422.6 1119.7,2422.0 1120.8,2422.0 1122.0,2422.1 1123.2,2421.5 1124.3,2421.1 1125.5,2420.8 1126.7,2420.8 1127.8,2421.5 1129.0,2422.2 1130.2,2422.2 1131.3,2421.1 1132.5,2420.6 1133.6,2421.1 1134.8,2421.7 1136.0,2422.2 1137.1,2422.2 1138.3,2421.4 1139.0,2420.9 1139.5,2421.0 1140.6,2420.8 1141.8,2420.8 1143.0,2421.3 1144.1,2421.5 1145.3,2421.6 1146.4,2421.2 1147.6,2420.3 1148.8,2420.2 1149.9,2420.8 1151.1,2421.0 1152.3,2420.7 1153.4,2419.9 1154.6,2419.5 1155.8,2420.0 1156.9,2419.8 1157.6,2419.8 1158.1,2420.1 1159.2,2419.4 1160.4,2418.3 1161.6,2418.5 1162.7,2419.4 1163.9,2419.7 1165.1,2419.4 1166.2,2419.2 1167.4,2419.2 1168.6,2419.6 1169.7,2419.9 1170.9,2419.6 1172.1,2419.5 1173.2,2419.9 1174.4,2419.6 1175.5,2419.4 1176.7,2419.8 1177.9,2420.0 1179.0,2420.0 1180.2,2420.5 1181.4,2420.7 1182.5,2420.0 1183.7,2419.6 1184.9,2419.5 1185.6,2419.6 1186.0,2419.5 1187.2,2419.5 1188.3,2419.8 1189.5,2419.4 1190.7,2419.7 1191.8,2419.6 1193.0,2418.2 1194.2,2417.7 1195.3,2418.0 1196.5,2417.8 1197.7,2417.6 1198.8,2417.5 1200.0,2417.0 1201.1,2416.9 1201.8,2417.4 1202.3,2417.5 1203.5,2417.8 1204.6,2418.3 1205.8,2418.1 1207.0,2417.8 1208.1,2417.8 1209.3,2418.4 1210.5,2419.0 1211.6,2418.9 1212.8,2419.3 1213.9,2419.5 1215.1,2418.6 1216.3,2417.0 1217.4,2414.5 1218.6,2411.2 1219.8,2406.2 1220.9,2398.8 1222.1,2388.9 1223.3,2377.7 1224.4,2368.0 1225.6,2362.8 1226.7,2365.2 1227.9,2372.0 1229.1,2376.4 1230.2,2376.4 1231.4,2371.1 1232.6,2361.6 1233.7,2354.3 1234.4,2354.4 1234.9,2356.3 1236.1,2366.0 1237.2,2379.8 1238.4,2392.6 1239.6,2402.6 1240.7,2409.4 1241.9,2413.6 1243.0,2416.2 1244.2,2417.7 1245.4,2417.9 1246.5,2417.3 1247.7,2417.5 1248.9,2418.4 1250.0,2419.0 1251.2,2418.7 1252.4,2417.0 1253.5,2414.4 1254.7,2411.4 1255.8,2408.6 1257.0,2407.6 1258.2,2408.6 1259.3,2410.9 1260.5,2413.9 1261.7,2416.4 1262.8,2418.0 1264.0,2419.1 1265.2,2419.8 1266.3,2420.2 1267.5,2420.3 1268.6,2420.1 1269.8,2420.1 1271.0,2420.4 1272.1,2420.2 1273.3,2419.0 1274.5,2417.5 1275.6,2415.6 1276.8,2412.5 1278.0,2408.9 1279.1,2405.7 1280.3,2404.4 1281.4,2406.7 1282.6,2410.8 1283.8,2414.2 1284.9,2416.9 1286.1,2418.7 1287.3,2419.6 1288.4,2420.1 1289.6,2420.7 1290.8,2420.8 1291.9,2420.5 1293.1,2420.6 1294.2,2420.7 1295.4,2421.1 1296.6,2421.3 1297.7,2420.7 1298.9,2419.8 1300.1,2418.7 1301.2,2417.4 1302.4,2414.7 1303.6,2410.9 1304.7,2408.0 1305.9,2405.8 1306.6,2404.8 1307.1,2404.4 1308.2,2406.7 1309.4,2410.6 1310.5,2414.2 1311.7,2416.6 1312.9,2418.7 1314.0,2420.3 1315.2,2420.8 1316.4,2420.8 1317.5,2420.6 1318.7,2420.9 1319.9,2421.0 1321.0,2420.4 1322.2,2420.2 1323.3,2419.9 1324.5,2419.5 1325.7,2419.5 1326.8,2419.0 1328.0,2418.2 1329.2,2418.0 1330.3,2418.1 1331.5,2418.1 1332.2,2417.9 1332.7,2417.6 1333.8,2417.0 1335.0,2417.3 1336.1,2419.0 1337.3,2419.9 1338.5,2419.7 1339.6,2420.1 1340.8,2420.8 1342.0,2421.0 1343.1,2421.1 1344.3,2421.3 1345.5,2420.8 1346.6,2419.9 1347.8,2420.2 1348.9,2421.4 1350.1,2422.5 1351.3,2422.3 1352.4,2421.2 1353.6,2420.7 1354.8,2421.2 1355.9,2421.5 1357.1,2421.7 1358.3,2422.0 1359.4,2422.6 1360.6,2422.7 1361.8,2421.7 1362.9,2420.5 1364.1,2420.3 1365.2,2420.9 1366.4,2420.8 1367.6,2420.0 1368.7,2419.9 1369.9,2419.9 1371.1,2419.1 1372.2,2417.7 1373.4,2416.3 1374.6,2415.9 1375.7,2415.5 1376.9,2414.9 1378.0,2413.6 1379.2,2412.1 1380.4,2411.5 1381.5,2411.2 1382.7,2411.3 1383.9,2412.0 1385.0,2412.6 1386.2,2412.0 1387.4,2411.5 1388.5,2412.5 1389.7,2414.1 1390.8,2415.5 1392.0,2417.4 1393.2,2418.4 1394.3,2418.5 1395.5,2418.7 1396.7,2418.4 1397.8,2419.1 1399.0,2420.6 1400.2,2421.1 1401.3,2420.8 1402.5,2420.6 1403.6,2420.9 1404.8,2421.4 1406.0,2421.3 1407.1,2420.3 1408.3,2420.0 1409.5,2420.9 1410.6,2421.4 1411.8,2420.1 1413.0,2418.7 1414.1,2418.8 1415.3,2419.6 1416.4,2420.4 1417.6,2420.1 1418.8,2419.1 1419.9,2418.8 1420.6,2419.0 1421.1,2418.6 1422.3,2418.3 1423.4,2418.9 1424.6,2419.4 1425.8,2419.7 1426.9,2420.7 1428.1,2421.5 1429.3,2421.4 1430.4,2420.7 1431.6,2420.5 1432.7,2420.7 1433.9,2420.7 1435.1,2420.0 1436.2,2419.3 1437.4,2419.8 1438.6,2420.4 1439.7,2420.1 1440.9,2419.0 1442.1,2417.5 1443.2,2416.4 1444.4,2415.3 1445.5,2414.0 1446.7,2412.6 1447.9,2410.5 1449.0,2408.0 1450.2,2405.7 1451.4,2403.4 1452.5,2402.0 1452.8,2402.1 1453.7,2401.3 1454.9,2400.8 1456.0,2400.8 1457.2,2400.4 1458.3,2400.6 1459.5,2401.5 1460.7,2401.4 1461.8,2401.6 1462.5,2402.7 1463.0,2403.5 1464.2,2404.5 1465.3,2406.4 1466.5,2409.2 1467.7,2411.3 1468.8,2412.6 1470.0,2414.4 1471.1,2415.9 1472.3,2416.7 1473.5,2417.9 1474.6,2418.9 1475.8,2419.7 1477.0,2420.0 1478.1,2419.9 1479.3,2420.2 1480.5,2420.4 1481.6,2420.2 1482.8,2419.9 1483.9,2420.0 1485.1,2420.7 1486.3,2421.3 1487.4,2421.2 1488.6,2420.4 1489.8,2419.5 1490.9,2419.4 1492.1,2419.6 1493.3,2419.4 1494.4,2419.3 1495.6,2419.2 1496.8,2419.0 1497.9,2418.7 1499.1,2417.5 1499.8,2416.9 1500.2,2417.6 1501.4,2417.9 1502.6,2418.2 1503.7,2418.9 1504.9,2419.5 1506.1,2420.2 1507.2,2420.2 1508.4,2419.6 1509.6,2419.8 1510.7,2420.8 1511.9,2421.7 1513.0,2421.9 1514.2,2421.5 1515.4,2421.7 1516.5,2422.0 1517.7,2421.6 1518.9,2421.8 1520.0,2421.9 1521.2,2421.7 1522.4,2422.5 1523.5,2422.5 1524.7,2421.5 1525.8,2421.8 1527.0,2422.1 1528.2,2421.1 1529.3,2420.7 1530.5,2421.1 1531.7,2421.2 1532.8,2420.7 1534.0,2420.3 1535.2,2420.7 1536.3,2420.8 1537.5,2420.4 1538.6,2420.2 1539.8,2420.2 1541.0,2419.6 1542.1,2419.0 1543.3,2417.9 1544.5,2417.0 1545.6,2416.3 1546.3,2415.9 1546.8,2416.6 1548.0,2417.7 1549.1,2418.1 1550.3,2417.9 1551.4,2418.6 1552.6,2419.9 1553.8,2420.0 1554.9,2419.7 1556.1,2420.1 1557.3,2420.3 1558.4,2419.9 1559.6,2420.1 1560.8,2421.2 1561.9,2421.8 1563.1,2422.0 1564.3,2421.3 1565.4,2419.9 1566.6,2419.6 1567.7,2419.9 1568.9,2420.0 1570.1,2419.3 1571.2,2418.7 1572.4,2418.9 1573.6,2418.4 1574.3,2418.3 1574.7,2419.1 1575.9,2419.5 1577.1,2419.7 1578.2,2419.7 1579.4,2419.6 1580.5,2419.8 1581.7,2419.9 1582.9,2420.9 1584.0,2421.9 1585.2,2421.8 1586.4,2422.6 1587.5,2423.3 1588.7,2422.5 1589.9,2421.3 1591.0,2420.3 1592.2,2420.2 1593.3,2420.6 1594.5,2420.7 1595.7,2420.7 1596.8,2420.6 1598.0,2420.3 1599.2,2420.2 1600.3,2420.0 1601.5,2419.6 1602.7,2418.7 1603.8,2417.6 1604.5,2418.2 1605.0,2419.4 1606.1,2419.8 1607.3,2419.9 1608.5,2419.7 1609.6,2420.1 1610.8,2421.0 1612.0,2420.7 1613.1,2419.8 1614.3,2420.2 1615.5,2420.8 1616.6,2420.9 1617.8,2420.6 1618.9,2419.6 1620.1,2418.2 1621.3,2417.4 1622.4,2417.3 1623.6,2416.2 1624.8,2414.5 1625.9,2413.1 1627.1,2411.8 1627.8,2411.7 1628.3,2413.0 1629.4,2414.6 1630.6,2415.4 1631.8,2416.3 1632.9,2417.5 1634.1,2418.3 1635.2,2419.0 1636.4,2420.0 1637.6,2420.8 1638.7,2421.2 1639.9,2421.5 1641.1,2422.0 1642.2,2421.1 1643.4,2419.9 1644.6,2420.3 1645.7,2421.4 1646.9,2421.8"/>
<g stroke="#000" fill="none" stroke-linecap="butt" shape-rendering="crispEdges">
<line x1="176.0" y1="34.8" x2="1808.4" y2="34.8" stroke-width="3.2"/>
<line x1="177.6" y1="1886.5" x2="1806.8" y2="1886.5" stroke-width="2.6"/>
<line x1="176.6" y1="3690.4" x2="1807.8" y2="3690.4" stroke-width="2.2"/>
<line x1="177.6" y1="34.8" x2="177.6" y2="1111.3" stroke-width="3.2"/>
<line x1="177.6" y1="1125" x2="177.6" y2="1669" stroke-width="3.2"/>
<line x1="177.6" y1="1675" x2="177.6" y2="1886.5" stroke-width="3.2"/>
<line x1="177.6" y1="1886.5" x2="177.6" y2="3691.5" stroke-width="2.4"/>
<line x1="1806.8" y1="34.8" x2="1806.8" y2="1111.3" stroke-width="3.2"/>
<line x1="1806.8" y1="1125" x2="1806.8" y2="1669" stroke-width="3.2"/>
<line x1="1806.8" y1="1675" x2="1806.8" y2="1886.5" stroke-width="3.2"/>
<line x1="1806.8" y1="1886.5" x2="1806.8" y2="3691.5" stroke-width="2.4"/>
<line x1="224.3" y1="34.8" x2="224.3" y2="44.8" stroke-width="3"/>
<line x1="270.8" y1="34.8" x2="270.8" y2="44.8" stroke-width="3"/>
<line x1="317.4" y1="34.8" x2="317.4" y2="44.8" stroke-width="3"/>
<line x1="363.9" y1="34.8" x2="363.9" y2="44.8" stroke-width="3"/>
<line x1="410.5" y1="34.8" x2="410.5" y2="55.8" stroke-width="3"/>
<line x1="457.0" y1="34.8" x2="457.0" y2="44.8" stroke-width="3"/>
<line x1="503.6" y1="34.8" x2="503.6" y2="44.8" stroke-width="3"/>
<line x1="550.1" y1="34.8" x2="550.1" y2="44.8" stroke-width="3"/>
<line x1="596.7" y1="34.8" x2="596.7" y2="44.8" stroke-width="3"/>
<line x1="643.2" y1="34.8" x2="643.2" y2="55.8" stroke-width="3"/>
<line x1="689.8" y1="34.8" x2="689.8" y2="44.8" stroke-width="3"/>
<line x1="736.3" y1="34.8" x2="736.3" y2="44.8" stroke-width="3"/>
<line x1="782.9" y1="34.8" x2="782.9" y2="44.8" stroke-width="3"/>
<line x1="829.4" y1="34.8" x2="829.4" y2="44.8" stroke-width="3"/>
<line x1="876.0" y1="34.8" x2="876.0" y2="55.8" stroke-width="3"/>
<line x1="922.5" y1="34.8" x2="922.5" y2="44.8" stroke-width="3"/>
<line x1="969.1" y1="34.8" x2="969.1" y2="44.8" stroke-width="3"/>
<line x1="1015.6" y1="34.8" x2="1015.6" y2="44.8" stroke-width="3"/>
<line x1="1062.2" y1="34.8" x2="1062.2" y2="44.8" stroke-width="3"/>
<line x1="1108.7" y1="34.8" x2="1108.7" y2="55.8" stroke-width="3"/>
<line x1="1155.3" y1="34.8" x2="1155.3" y2="44.8" stroke-width="3"/>
<line x1="1201.8" y1="34.8" x2="1201.8" y2="44.8" stroke-width="3"/>
<line x1="1248.4" y1="34.8" x2="1248.4" y2="44.8" stroke-width="3"/>
<line x1="1294.9" y1="34.8" x2="1294.9" y2="44.8" stroke-width="3"/>
<line x1="1341.5" y1="34.8" x2="1341.5" y2="55.8" stroke-width="3"/>
<line x1="1388.1" y1="34.8" x2="1388.1" y2="44.8" stroke-width="3"/>
<line x1="1434.6" y1="34.8" x2="1434.6" y2="44.8" stroke-width="3"/>
<line x1="1481.2" y1="34.8" x2="1481.2" y2="44.8" stroke-width="3"/>
<line x1="1527.7" y1="34.8" x2="1527.7" y2="44.8" stroke-width="3"/>
<line x1="1574.3" y1="34.8" x2="1574.3" y2="55.8" stroke-width="3"/>
<line x1="1620.8" y1="34.8" x2="1620.8" y2="44.8" stroke-width="3"/>
<line x1="1667.4" y1="34.8" x2="1667.4" y2="44.8" stroke-width="3"/>
<line x1="1713.9" y1="34.8" x2="1713.9" y2="44.8" stroke-width="3"/>
<line x1="1760.5" y1="34.8" x2="1760.5" y2="44.8" stroke-width="3"/>
</g>
<text x="156.4" y="3785.0" font-size="68.8" fill="#000" font-family="'Liberation Sans', Arial, sans-serif" textLength="39.2" lengthAdjust="spacingAndGlyphs">0</text>
<text x="371.8" y="3785.0" font-size="68.8" fill="#000" font-family="'Liberation Sans', Arial, sans-serif" textLength="75.2" lengthAdjust="spacingAndGlyphs">10</text>
<text x="601.5" y="3785.0" font-size="68.8" fill="#000" font-family="'Liberation Sans', Arial, sans-serif" textLength="79.5" lengthAdjust="spacingAndGlyphs">20</text>
<text x="835.7" y="3785.0" font-size="68.8" fill="#000" font-family="'Liberation Sans', Arial, sans-serif" textLength="79.5" lengthAdjust="spacingAndGlyphs">30</text>
<text x="1066.5" y="3785.0" font-size="68.8" fill="#000" font-family="'Liberation Sans', Arial, sans-serif" textLength="79.8" lengthAdjust="spacingAndGlyphs">40</text>
<text x="1301.5" y="3785.0" font-size="68.8" fill="#000" font-family="'Liberation Sans', Arial, sans-serif" textLength="79.4" lengthAdjust="spacingAndGlyphs">50</text>
<text x="1531.8" y="3785.0" font-size="68.8" fill="#000" font-family="'Liberation Sans', Arial, sans-serif" textLength="80.4" lengthAdjust="spacingAndGlyphs">60</text>
<text x="1765.1" y="3785.0" font-size="68.8" fill="#000" font-family="'Liberation Sans', Arial, sans-serif" textLength="79.8" lengthAdjust="spacingAndGlyphs">70</text>
<text x="893.3 937.3 980 996.6 1027.6 1058.9" y="3898.6" font-size="76" fill="#000" font-family="'Liberation Sans', Arial, sans-serif">2θ (°)</text>
<text transform="translate(93.5 2390.8) rotate(-90)" font-size="78" font-family="'Liberation Sans', Arial, sans-serif" textLength="484" lengthAdjust="spacingAndGlyphs">Intensity (a.u.)</text>
<text x="1627.4" y="527.8" font-size="84.3" fill="#000" font-family="'Liberation Sans', Arial, sans-serif" textLength="115.4" lengthAdjust="spacingAndGlyphs">HY</text>
<text x="1428.4" y="1052.3" font-size="84.3" fill="#ff0000" font-family="'Liberation Sans', Arial, sans-serif" textLength="344.1" lengthAdjust="spacingAndGlyphs">HY-Ni5%</text>
<text x="1420.0" y="1506.0" font-size="84.3" fill="#0000ff" font-family="'Liberation Sans', Arial, sans-serif" textLength="372.8" lengthAdjust="spacingAndGlyphs">HY-Co5%</text>
<text x="1279.0" y="1844.6" font-size="75.8" fill="#000" font-family="'Liberation Sans', Arial, sans-serif" textLength="515.7" lengthAdjust="spacingAndGlyphs">COD-1536109</text>
<text x="1482.6" y="2376.3" font-size="84.3" fill="#00a000" font-family="'Liberation Sans', Arial, sans-serif" textLength="290.2" lengthAdjust="spacingAndGlyphs">HZSM5</text>
<text x="1265.2" y="2892.6" font-size="84.3" fill="#ff8000" font-family="'Liberation Sans', Arial, sans-serif" textLength="516.5" lengthAdjust="spacingAndGlyphs">HZSM5-Ni5%</text>
<text x="1243.5" y="3413.6" font-size="84.3" fill="#ff00ff" font-family="'Liberation Sans', Arial, sans-serif" textLength="543.9" lengthAdjust="spacingAndGlyphs">HZSM5-Co5%</text>
<text x="1259.6" y="3657.8" font-size="75.8" fill="#000" font-family="'Liberation Sans', Arial, sans-serif" textLength="517.1" lengthAdjust="spacingAndGlyphs">COD-9012419</text>
</svg>
</body>
</html>
